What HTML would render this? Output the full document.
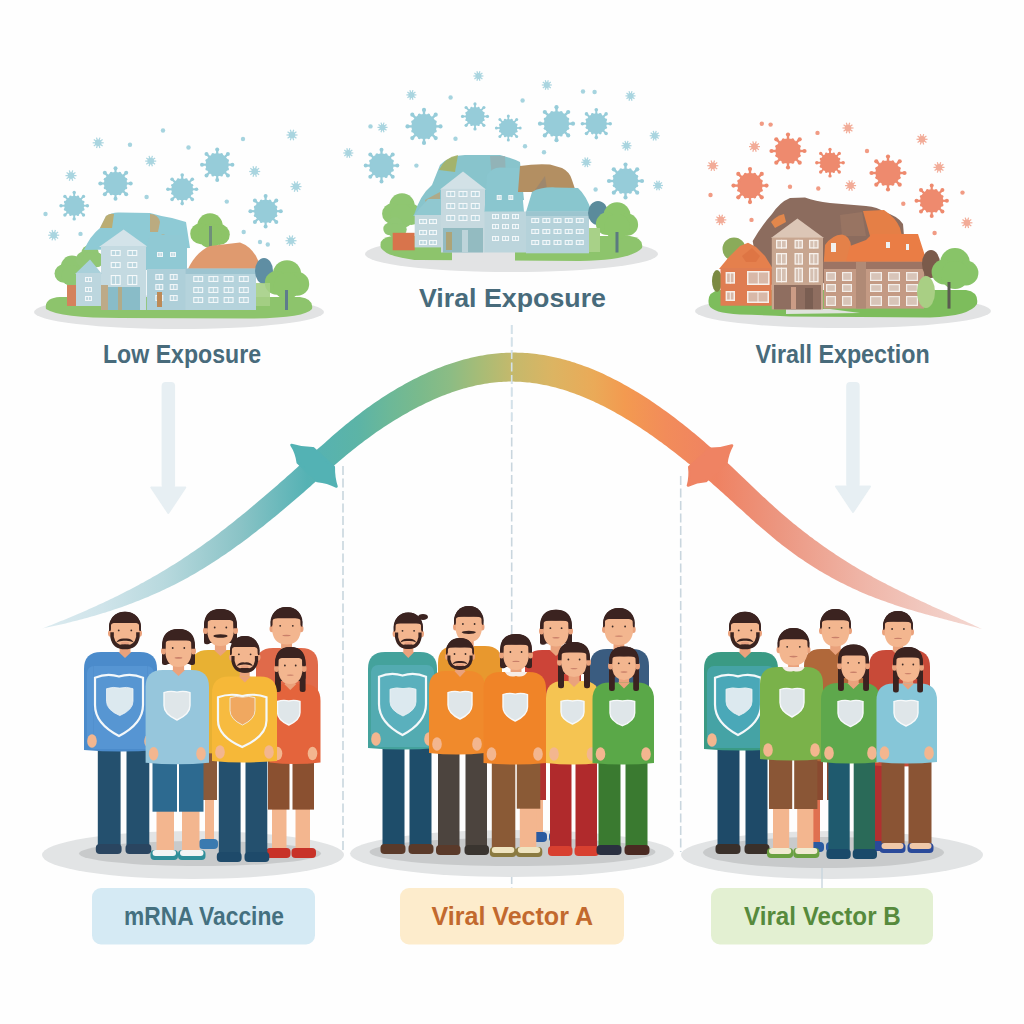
<!DOCTYPE html>
<html><head><meta charset="utf-8"><style>
html,body{margin:0;padding:0;background:#fefefe;width:1024px;height:1024px;overflow:hidden}
svg{display:block}
</style></head><body>
<svg width="1024" height="1024" viewBox="0 0 1024 1024">
<rect width="1024" height="1024" fill="#fefefe"/>
<g fill="#96ccd9" stroke="#96ccd9"><circle cx="115.5" cy="183.5" r="11.5" stroke="none"/><line x1="125.8" y1="183.5" x2="130.2" y2="183.5" stroke-width="2.2"/><circle cx="130.7" cy="183.5" r="2" stroke="none"/><line x1="122.8" y1="190.8" x2="125.9" y2="193.9" stroke-width="2.2"/><circle cx="126.2" cy="194.2" r="2" stroke="none"/><line x1="115.5" y1="193.8" x2="115.5" y2="198.2" stroke-width="2.2"/><circle cx="115.5" cy="198.7" r="2" stroke="none"/><line x1="108.2" y1="190.8" x2="105.1" y2="193.9" stroke-width="2.2"/><circle cx="104.8" cy="194.2" r="2" stroke="none"/><line x1="105.2" y1="183.5" x2="100.8" y2="183.5" stroke-width="2.2"/><circle cx="100.3" cy="183.5" r="2" stroke="none"/><line x1="108.2" y1="176.2" x2="105.1" y2="173.1" stroke-width="2.2"/><circle cx="104.8" cy="172.8" r="2" stroke="none"/><line x1="115.5" y1="173.2" x2="115.5" y2="168.8" stroke-width="2.2"/><circle cx="115.5" cy="168.3" r="2" stroke="none"/><line x1="122.8" y1="176.2" x2="125.9" y2="173.1" stroke-width="2.2"/><circle cx="126.2" cy="172.8" r="2" stroke="none"/><circle cx="125.8" cy="187.8" r="1.5" stroke="none"/><circle cx="119.8" cy="193.8" r="1.5" stroke="none"/><circle cx="111.2" cy="193.8" r="1.5" stroke="none"/><circle cx="105.2" cy="187.8" r="1.5" stroke="none"/><circle cx="105.2" cy="179.2" r="1.5" stroke="none"/><circle cx="111.2" cy="173.2" r="1.5" stroke="none"/><circle cx="119.8" cy="173.2" r="1.5" stroke="none"/><circle cx="125.8" cy="179.2" r="1.5" stroke="none"/></g><g fill="#96ccd9" stroke="#96ccd9"><circle cx="182.2" cy="189.3" r="10.8" stroke="none"/><line x1="191.9" y1="189.3" x2="196" y2="189.3" stroke-width="2.1"/><circle cx="196.5" cy="189.3" r="1.8" stroke="none"/><line x1="189.1" y1="196.2" x2="192" y2="199.1" stroke-width="2.1"/><circle cx="192.3" cy="199.4" r="1.8" stroke="none"/><line x1="182.2" y1="199" x2="182.2" y2="203.1" stroke-width="2.1"/><circle cx="182.2" cy="203.6" r="1.8" stroke="none"/><line x1="175.3" y1="196.2" x2="172.4" y2="199.1" stroke-width="2.1"/><circle cx="172.1" cy="199.4" r="1.8" stroke="none"/><line x1="172.5" y1="189.3" x2="168.4" y2="189.3" stroke-width="2.1"/><circle cx="167.9" cy="189.3" r="1.8" stroke="none"/><line x1="175.3" y1="182.4" x2="172.4" y2="179.5" stroke-width="2.1"/><circle cx="172.1" cy="179.2" r="1.8" stroke="none"/><line x1="182.2" y1="179.6" x2="182.2" y2="175.5" stroke-width="2.1"/><circle cx="182.2" cy="175" r="1.8" stroke="none"/><line x1="189.1" y1="182.4" x2="192" y2="179.5" stroke-width="2.1"/><circle cx="192.3" cy="179.2" r="1.8" stroke="none"/><circle cx="191.9" cy="193.3" r="1.4" stroke="none"/><circle cx="186.2" cy="199" r="1.4" stroke="none"/><circle cx="178.2" cy="199" r="1.4" stroke="none"/><circle cx="172.5" cy="193.3" r="1.4" stroke="none"/><circle cx="172.5" cy="185.3" r="1.4" stroke="none"/><circle cx="178.2" cy="179.6" r="1.4" stroke="none"/><circle cx="186.2" cy="179.6" r="1.4" stroke="none"/><circle cx="191.9" cy="185.3" r="1.4" stroke="none"/></g><g fill="#96ccd9" stroke="#96ccd9"><circle cx="217.2" cy="164.7" r="11.5" stroke="none"/><line x1="227.5" y1="164.7" x2="231.9" y2="164.7" stroke-width="2.2"/><circle cx="232.4" cy="164.7" r="2" stroke="none"/><line x1="224.5" y1="172" x2="227.6" y2="175.1" stroke-width="2.2"/><circle cx="227.9" cy="175.4" r="2" stroke="none"/><line x1="217.2" y1="175" x2="217.2" y2="179.4" stroke-width="2.2"/><circle cx="217.2" cy="179.9" r="2" stroke="none"/><line x1="209.9" y1="172" x2="206.8" y2="175.1" stroke-width="2.2"/><circle cx="206.5" cy="175.4" r="2" stroke="none"/><line x1="206.8" y1="164.7" x2="202.5" y2="164.7" stroke-width="2.2"/><circle cx="202" cy="164.7" r="2" stroke="none"/><line x1="209.9" y1="157.4" x2="206.8" y2="154.3" stroke-width="2.2"/><circle cx="206.5" cy="154" r="2" stroke="none"/><line x1="217.2" y1="154.3" x2="217.2" y2="150" stroke-width="2.2"/><circle cx="217.2" cy="149.5" r="2" stroke="none"/><line x1="224.5" y1="157.4" x2="227.6" y2="154.3" stroke-width="2.2"/><circle cx="227.9" cy="154" r="2" stroke="none"/><circle cx="227.5" cy="169" r="1.5" stroke="none"/><circle cx="221.5" cy="175" r="1.5" stroke="none"/><circle cx="212.9" cy="175" r="1.5" stroke="none"/><circle cx="206.9" cy="169" r="1.5" stroke="none"/><circle cx="206.9" cy="160.4" r="1.5" stroke="none"/><circle cx="212.9" cy="154.4" r="1.5" stroke="none"/><circle cx="221.5" cy="154.4" r="1.5" stroke="none"/><circle cx="227.5" cy="160.4" r="1.5" stroke="none"/></g><g fill="#96ccd9" stroke="#96ccd9"><circle cx="74.2" cy="205.7" r="10" stroke="none"/><line x1="83.2" y1="205.7" x2="87" y2="205.7" stroke-width="1.9"/><circle cx="87.4" cy="205.7" r="1.7" stroke="none"/><line x1="80.6" y1="212.1" x2="83.3" y2="214.8" stroke-width="1.9"/><circle cx="83.5" cy="215" r="1.7" stroke="none"/><line x1="74.2" y1="214.7" x2="74.2" y2="218.5" stroke-width="1.9"/><circle cx="74.2" cy="218.9" r="1.7" stroke="none"/><line x1="67.8" y1="212.1" x2="65.1" y2="214.8" stroke-width="1.9"/><circle cx="64.9" cy="215" r="1.7" stroke="none"/><line x1="65.2" y1="205.7" x2="61.4" y2="205.7" stroke-width="1.9"/><circle cx="61" cy="205.7" r="1.7" stroke="none"/><line x1="67.8" y1="199.3" x2="65.1" y2="196.6" stroke-width="1.9"/><circle cx="64.9" cy="196.4" r="1.7" stroke="none"/><line x1="74.2" y1="196.7" x2="74.2" y2="192.9" stroke-width="1.9"/><circle cx="74.2" cy="192.5" r="1.7" stroke="none"/><line x1="80.6" y1="199.3" x2="83.3" y2="196.6" stroke-width="1.9"/><circle cx="83.5" cy="196.4" r="1.7" stroke="none"/><circle cx="83.2" cy="209.4" r="1.3" stroke="none"/><circle cx="77.9" cy="214.7" r="1.3" stroke="none"/><circle cx="70.5" cy="214.7" r="1.3" stroke="none"/><circle cx="65.2" cy="209.4" r="1.3" stroke="none"/><circle cx="65.2" cy="202" r="1.3" stroke="none"/><circle cx="70.5" cy="196.7" r="1.3" stroke="none"/><circle cx="77.9" cy="196.7" r="1.3" stroke="none"/><circle cx="83.2" cy="202" r="1.3" stroke="none"/></g><g fill="#96ccd9" stroke="#96ccd9"><circle cx="265.6" cy="211.2" r="11.5" stroke="none"/><line x1="276" y1="211.2" x2="280.3" y2="211.2" stroke-width="2.2"/><circle cx="280.8" cy="211.2" r="2" stroke="none"/><line x1="272.9" y1="218.5" x2="276" y2="221.6" stroke-width="2.2"/><circle cx="276.3" cy="221.9" r="2" stroke="none"/><line x1="265.6" y1="221.5" x2="265.6" y2="225.9" stroke-width="2.2"/><circle cx="265.6" cy="226.4" r="2" stroke="none"/><line x1="258.3" y1="218.5" x2="255.2" y2="221.6" stroke-width="2.2"/><circle cx="254.9" cy="221.9" r="2" stroke="none"/><line x1="255.3" y1="211.2" x2="250.9" y2="211.2" stroke-width="2.2"/><circle cx="250.4" cy="211.2" r="2" stroke="none"/><line x1="258.3" y1="203.9" x2="255.2" y2="200.8" stroke-width="2.2"/><circle cx="254.9" cy="200.5" r="2" stroke="none"/><line x1="265.6" y1="200.8" x2="265.6" y2="196.5" stroke-width="2.2"/><circle cx="265.6" cy="196" r="2" stroke="none"/><line x1="272.9" y1="203.9" x2="276" y2="200.8" stroke-width="2.2"/><circle cx="276.3" cy="200.5" r="2" stroke="none"/><circle cx="275.9" cy="215.5" r="1.5" stroke="none"/><circle cx="269.9" cy="221.5" r="1.5" stroke="none"/><circle cx="261.3" cy="221.5" r="1.5" stroke="none"/><circle cx="255.3" cy="215.5" r="1.5" stroke="none"/><circle cx="255.3" cy="206.9" r="1.5" stroke="none"/><circle cx="261.3" cy="200.9" r="1.5" stroke="none"/><circle cx="269.9" cy="200.9" r="1.5" stroke="none"/><circle cx="275.9" cy="206.9" r="1.5" stroke="none"/></g><g stroke="#96ccd9" opacity="0.8" stroke-width="1.2"><circle cx="98.2" cy="142.8" r="3.3" fill="#96ccd9" stroke="none"/><line x1="98.2" y1="142.8" x2="103.7" y2="142.8"/><line x1="98.2" y1="142.8" x2="102.6" y2="146"/><line x1="98.2" y1="142.8" x2="99.9" y2="148"/><line x1="98.2" y1="142.8" x2="96.5" y2="148"/><line x1="98.2" y1="142.8" x2="93.8" y2="146"/><line x1="98.2" y1="142.8" x2="92.7" y2="142.8"/><line x1="98.2" y1="142.8" x2="93.8" y2="139.6"/><line x1="98.2" y1="142.8" x2="96.5" y2="137.6"/><line x1="98.2" y1="142.8" x2="99.9" y2="137.6"/><line x1="98.2" y1="142.8" x2="102.6" y2="139.6"/></g><g stroke="#96ccd9" opacity="0.8" stroke-width="1.2"><circle cx="150.7" cy="161.1" r="3.3" fill="#96ccd9" stroke="none"/><line x1="150.7" y1="161.1" x2="156.2" y2="161.1"/><line x1="150.7" y1="161.1" x2="155.1" y2="164.3"/><line x1="150.7" y1="161.1" x2="152.4" y2="166.3"/><line x1="150.7" y1="161.1" x2="149" y2="166.3"/><line x1="150.7" y1="161.1" x2="146.3" y2="164.3"/><line x1="150.7" y1="161.1" x2="145.2" y2="161.1"/><line x1="150.7" y1="161.1" x2="146.3" y2="157.9"/><line x1="150.7" y1="161.1" x2="149" y2="155.9"/><line x1="150.7" y1="161.1" x2="152.4" y2="155.9"/><line x1="150.7" y1="161.1" x2="155.1" y2="157.9"/></g><g stroke="#96ccd9" opacity="0.8" stroke-width="1.2"><circle cx="292" cy="135" r="3.3" fill="#96ccd9" stroke="none"/><line x1="292" y1="135" x2="297.5" y2="135"/><line x1="292" y1="135" x2="296.4" y2="138.2"/><line x1="292" y1="135" x2="293.7" y2="140.2"/><line x1="292" y1="135" x2="290.3" y2="140.2"/><line x1="292" y1="135" x2="287.6" y2="138.2"/><line x1="292" y1="135" x2="286.5" y2="135"/><line x1="292" y1="135" x2="287.6" y2="131.8"/><line x1="292" y1="135" x2="290.3" y2="129.8"/><line x1="292" y1="135" x2="293.7" y2="129.8"/><line x1="292" y1="135" x2="296.4" y2="131.8"/></g><g stroke="#96ccd9" opacity="0.8" stroke-width="1.2"><circle cx="53.7" cy="235.2" r="3.3" fill="#96ccd9" stroke="none"/><line x1="53.7" y1="235.2" x2="59.2" y2="235.2"/><line x1="53.7" y1="235.2" x2="58.1" y2="238.4"/><line x1="53.7" y1="235.2" x2="55.4" y2="240.4"/><line x1="53.7" y1="235.2" x2="52" y2="240.4"/><line x1="53.7" y1="235.2" x2="49.3" y2="238.4"/><line x1="53.7" y1="235.2" x2="48.2" y2="235.2"/><line x1="53.7" y1="235.2" x2="49.3" y2="232"/><line x1="53.7" y1="235.2" x2="52" y2="230"/><line x1="53.7" y1="235.2" x2="55.4" y2="230"/><line x1="53.7" y1="235.2" x2="58.1" y2="232"/></g><g stroke="#96ccd9" opacity="0.8" stroke-width="1.2"><circle cx="291" cy="240.7" r="3.3" fill="#96ccd9" stroke="none"/><line x1="291" y1="240.7" x2="296.5" y2="240.7"/><line x1="291" y1="240.7" x2="295.4" y2="243.9"/><line x1="291" y1="240.7" x2="292.7" y2="245.9"/><line x1="291" y1="240.7" x2="289.3" y2="245.9"/><line x1="291" y1="240.7" x2="286.6" y2="243.9"/><line x1="291" y1="240.7" x2="285.5" y2="240.7"/><line x1="291" y1="240.7" x2="286.6" y2="237.5"/><line x1="291" y1="240.7" x2="289.3" y2="235.5"/><line x1="291" y1="240.7" x2="292.7" y2="235.5"/><line x1="291" y1="240.7" x2="295.4" y2="237.5"/></g><g stroke="#96ccd9" opacity="0.8" stroke-width="1.2"><circle cx="254.7" cy="171.5" r="3.3" fill="#96ccd9" stroke="none"/><line x1="254.7" y1="171.5" x2="260.2" y2="171.5"/><line x1="254.7" y1="171.5" x2="259.1" y2="174.7"/><line x1="254.7" y1="171.5" x2="256.4" y2="176.7"/><line x1="254.7" y1="171.5" x2="253" y2="176.7"/><line x1="254.7" y1="171.5" x2="250.3" y2="174.7"/><line x1="254.7" y1="171.5" x2="249.2" y2="171.5"/><line x1="254.7" y1="171.5" x2="250.3" y2="168.3"/><line x1="254.7" y1="171.5" x2="253" y2="166.3"/><line x1="254.7" y1="171.5" x2="256.4" y2="166.3"/><line x1="254.7" y1="171.5" x2="259.1" y2="168.3"/></g><g stroke="#96ccd9" opacity="0.8" stroke-width="1.2"><circle cx="296" cy="186.6" r="3.3" fill="#96ccd9" stroke="none"/><line x1="296" y1="186.6" x2="301.5" y2="186.6"/><line x1="296" y1="186.6" x2="300.4" y2="189.8"/><line x1="296" y1="186.6" x2="297.7" y2="191.8"/><line x1="296" y1="186.6" x2="294.3" y2="191.8"/><line x1="296" y1="186.6" x2="291.6" y2="189.8"/><line x1="296" y1="186.6" x2="290.5" y2="186.6"/><line x1="296" y1="186.6" x2="291.6" y2="183.4"/><line x1="296" y1="186.6" x2="294.3" y2="181.4"/><line x1="296" y1="186.6" x2="297.7" y2="181.4"/><line x1="296" y1="186.6" x2="300.4" y2="183.4"/></g><g stroke="#96ccd9" opacity="0.8" stroke-width="1.2"><circle cx="71" cy="175.6" r="3.3" fill="#96ccd9" stroke="none"/><line x1="71" y1="175.6" x2="76.5" y2="175.6"/><line x1="71" y1="175.6" x2="75.4" y2="178.8"/><line x1="71" y1="175.6" x2="72.7" y2="180.8"/><line x1="71" y1="175.6" x2="69.3" y2="180.8"/><line x1="71" y1="175.6" x2="66.6" y2="178.8"/><line x1="71" y1="175.6" x2="65.5" y2="175.6"/><line x1="71" y1="175.6" x2="66.6" y2="172.4"/><line x1="71" y1="175.6" x2="69.3" y2="170.4"/><line x1="71" y1="175.6" x2="72.7" y2="170.4"/><line x1="71" y1="175.6" x2="75.4" y2="172.4"/></g><circle cx="146.6" cy="197" r="2.2" fill="#96ccd9" opacity="0.85"/><circle cx="226.8" cy="201.6" r="2.2" fill="#96ccd9" opacity="0.85"/><circle cx="130" cy="144.7" r="2.2" fill="#96ccd9" opacity="0.85"/><circle cx="163" cy="130.5" r="2.2" fill="#96ccd9" opacity="0.85"/><circle cx="188.5" cy="147.5" r="2.2" fill="#96ccd9" opacity="0.85"/><circle cx="243" cy="139" r="2.2" fill="#96ccd9" opacity="0.85"/><circle cx="80.5" cy="233.9" r="2.2" fill="#96ccd9" opacity="0.85"/><circle cx="45.5" cy="214" r="2.2" fill="#96ccd9" opacity="0.85"/><circle cx="243.7" cy="232" r="2.2" fill="#96ccd9" opacity="0.85"/><circle cx="260" cy="242" r="2.2" fill="#96ccd9" opacity="0.85"/><circle cx="267.8" cy="244.5" r="2.2" fill="#96ccd9" opacity="0.85"/><g fill="#96ccd9" stroke="#96ccd9"><circle cx="424" cy="126.4" r="12.5" stroke="none"/><line x1="435.2" y1="126.4" x2="440" y2="126.4" stroke-width="2.4"/><circle cx="440.5" cy="126.4" r="2.1" stroke="none"/><line x1="432" y1="134.4" x2="435.3" y2="137.7" stroke-width="2.4"/><circle cx="435.7" cy="138.1" r="2.1" stroke="none"/><line x1="424" y1="137.7" x2="424" y2="142.4" stroke-width="2.4"/><circle cx="424" cy="142.9" r="2.1" stroke="none"/><line x1="416" y1="134.4" x2="412.7" y2="137.7" stroke-width="2.4"/><circle cx="412.3" cy="138.1" r="2.1" stroke="none"/><line x1="412.8" y1="126.4" x2="408" y2="126.4" stroke-width="2.4"/><circle cx="407.5" cy="126.4" r="2.1" stroke="none"/><line x1="416" y1="118.4" x2="412.7" y2="115.1" stroke-width="2.4"/><circle cx="412.3" cy="114.7" r="2.1" stroke="none"/><line x1="424" y1="115.2" x2="424" y2="110.4" stroke-width="2.4"/><circle cx="424" cy="109.9" r="2.1" stroke="none"/><line x1="432" y1="118.4" x2="435.3" y2="115.1" stroke-width="2.4"/><circle cx="435.7" cy="114.7" r="2.1" stroke="none"/><circle cx="435.2" cy="131" r="1.6" stroke="none"/><circle cx="428.6" cy="137.6" r="1.6" stroke="none"/><circle cx="419.4" cy="137.6" r="1.6" stroke="none"/><circle cx="412.8" cy="131" r="1.6" stroke="none"/><circle cx="412.8" cy="121.8" r="1.6" stroke="none"/><circle cx="419.4" cy="115.2" r="1.6" stroke="none"/><circle cx="428.6" cy="115.2" r="1.6" stroke="none"/><circle cx="435.2" cy="121.8" r="1.6" stroke="none"/></g><g fill="#96ccd9" stroke="#96ccd9"><circle cx="475" cy="116.4" r="9.5" stroke="none"/><line x1="483.6" y1="116.4" x2="487.2" y2="116.4" stroke-width="1.8"/><circle cx="487.5" cy="116.4" r="1.6" stroke="none"/><line x1="481" y1="122.4" x2="483.6" y2="125" stroke-width="1.8"/><circle cx="483.9" cy="125.3" r="1.6" stroke="none"/><line x1="475" y1="125" x2="475" y2="128.6" stroke-width="1.8"/><circle cx="475" cy="128.9" r="1.6" stroke="none"/><line x1="469" y1="122.4" x2="466.4" y2="125" stroke-width="1.8"/><circle cx="466.1" cy="125.3" r="1.6" stroke="none"/><line x1="466.4" y1="116.4" x2="462.8" y2="116.4" stroke-width="1.8"/><circle cx="462.5" cy="116.4" r="1.6" stroke="none"/><line x1="469" y1="110.4" x2="466.4" y2="107.8" stroke-width="1.8"/><circle cx="466.1" cy="107.5" r="1.6" stroke="none"/><line x1="475" y1="107.9" x2="475" y2="104.2" stroke-width="1.8"/><circle cx="475" cy="103.9" r="1.6" stroke="none"/><line x1="481" y1="110.4" x2="483.6" y2="107.8" stroke-width="1.8"/><circle cx="483.9" cy="107.5" r="1.6" stroke="none"/><circle cx="483.5" cy="119.9" r="1.2" stroke="none"/><circle cx="478.5" cy="124.9" r="1.2" stroke="none"/><circle cx="471.5" cy="124.9" r="1.2" stroke="none"/><circle cx="466.5" cy="119.9" r="1.2" stroke="none"/><circle cx="466.5" cy="112.9" r="1.2" stroke="none"/><circle cx="471.5" cy="107.9" r="1.2" stroke="none"/><circle cx="478.5" cy="107.9" r="1.2" stroke="none"/><circle cx="483.5" cy="112.9" r="1.2" stroke="none"/></g><g fill="#96ccd9" stroke="#96ccd9"><circle cx="508.3" cy="128" r="9" stroke="none"/><line x1="516.4" y1="128" x2="519.8" y2="128" stroke-width="1.7"/><circle cx="520.2" cy="128" r="1.5" stroke="none"/><line x1="514" y1="133.7" x2="516.4" y2="136.1" stroke-width="1.7"/><circle cx="516.7" cy="136.4" r="1.5" stroke="none"/><line x1="508.3" y1="136.1" x2="508.3" y2="139.5" stroke-width="1.7"/><circle cx="508.3" cy="139.9" r="1.5" stroke="none"/><line x1="502.6" y1="133.7" x2="500.2" y2="136.1" stroke-width="1.7"/><circle cx="499.9" cy="136.4" r="1.5" stroke="none"/><line x1="500.2" y1="128" x2="496.8" y2="128" stroke-width="1.7"/><circle cx="496.4" cy="128" r="1.5" stroke="none"/><line x1="502.6" y1="122.3" x2="500.2" y2="119.9" stroke-width="1.7"/><circle cx="499.9" cy="119.6" r="1.5" stroke="none"/><line x1="508.3" y1="119.9" x2="508.3" y2="116.5" stroke-width="1.7"/><circle cx="508.3" cy="116.1" r="1.5" stroke="none"/><line x1="514" y1="122.3" x2="516.4" y2="119.9" stroke-width="1.7"/><circle cx="516.7" cy="119.6" r="1.5" stroke="none"/><circle cx="516.4" cy="131.3" r="1.2" stroke="none"/><circle cx="511.6" cy="136.1" r="1.2" stroke="none"/><circle cx="505" cy="136.1" r="1.2" stroke="none"/><circle cx="500.2" cy="131.3" r="1.2" stroke="none"/><circle cx="500.2" cy="124.7" r="1.2" stroke="none"/><circle cx="505" cy="119.9" r="1.2" stroke="none"/><circle cx="511.6" cy="119.9" r="1.2" stroke="none"/><circle cx="516.4" cy="124.7" r="1.2" stroke="none"/></g><g fill="#96ccd9" stroke="#96ccd9"><circle cx="556.5" cy="123.7" r="12.5" stroke="none"/><line x1="567.8" y1="123.7" x2="572.5" y2="123.7" stroke-width="2.4"/><circle cx="573" cy="123.7" r="2.1" stroke="none"/><line x1="564.5" y1="131.7" x2="567.8" y2="135" stroke-width="2.4"/><circle cx="568.2" cy="135.4" r="2.1" stroke="none"/><line x1="556.5" y1="134.9" x2="556.5" y2="139.7" stroke-width="2.4"/><circle cx="556.5" cy="140.2" r="2.1" stroke="none"/><line x1="548.5" y1="131.7" x2="545.2" y2="135" stroke-width="2.4"/><circle cx="544.8" cy="135.4" r="2.1" stroke="none"/><line x1="545.2" y1="123.7" x2="540.5" y2="123.7" stroke-width="2.4"/><circle cx="540" cy="123.7" r="2.1" stroke="none"/><line x1="548.5" y1="115.7" x2="545.2" y2="112.4" stroke-width="2.4"/><circle cx="544.8" cy="112" r="2.1" stroke="none"/><line x1="556.5" y1="112.5" x2="556.5" y2="107.7" stroke-width="2.4"/><circle cx="556.5" cy="107.2" r="2.1" stroke="none"/><line x1="564.5" y1="115.7" x2="567.8" y2="112.4" stroke-width="2.4"/><circle cx="568.2" cy="112" r="2.1" stroke="none"/><circle cx="567.7" cy="128.3" r="1.6" stroke="none"/><circle cx="561.1" cy="134.9" r="1.6" stroke="none"/><circle cx="551.9" cy="134.9" r="1.6" stroke="none"/><circle cx="545.3" cy="128.3" r="1.6" stroke="none"/><circle cx="545.3" cy="119.1" r="1.6" stroke="none"/><circle cx="551.9" cy="112.5" r="1.6" stroke="none"/><circle cx="561.1" cy="112.5" r="1.6" stroke="none"/><circle cx="567.7" cy="119.1" r="1.6" stroke="none"/></g><g fill="#96ccd9" stroke="#96ccd9"><circle cx="596.3" cy="123.7" r="10.5" stroke="none"/><line x1="605.8" y1="123.7" x2="609.7" y2="123.7" stroke-width="2"/><circle cx="610.2" cy="123.7" r="1.8" stroke="none"/><line x1="603" y1="130.4" x2="605.8" y2="133.2" stroke-width="2"/><circle cx="606.1" cy="133.5" r="1.8" stroke="none"/><line x1="596.3" y1="133.2" x2="596.3" y2="137.1" stroke-width="2"/><circle cx="596.3" cy="137.6" r="1.8" stroke="none"/><line x1="589.6" y1="130.4" x2="586.8" y2="133.2" stroke-width="2"/><circle cx="586.5" cy="133.5" r="1.8" stroke="none"/><line x1="586.8" y1="123.7" x2="582.9" y2="123.7" stroke-width="2"/><circle cx="582.4" cy="123.7" r="1.8" stroke="none"/><line x1="589.6" y1="117" x2="586.8" y2="114.2" stroke-width="2"/><circle cx="586.5" cy="113.9" r="1.8" stroke="none"/><line x1="596.3" y1="114.2" x2="596.3" y2="110.3" stroke-width="2"/><circle cx="596.3" cy="109.8" r="1.8" stroke="none"/><line x1="603" y1="117" x2="605.8" y2="114.2" stroke-width="2"/><circle cx="606.1" cy="113.9" r="1.8" stroke="none"/><circle cx="605.7" cy="127.6" r="1.4" stroke="none"/><circle cx="600.2" cy="133.1" r="1.4" stroke="none"/><circle cx="592.4" cy="133.1" r="1.4" stroke="none"/><circle cx="586.9" cy="127.6" r="1.4" stroke="none"/><circle cx="586.9" cy="119.8" r="1.4" stroke="none"/><circle cx="592.4" cy="114.3" r="1.4" stroke="none"/><circle cx="600.2" cy="114.3" r="1.4" stroke="none"/><circle cx="605.7" cy="119.8" r="1.4" stroke="none"/></g><g fill="#96ccd9" stroke="#96ccd9"><circle cx="381.5" cy="165.6" r="12" stroke="none"/><line x1="392.3" y1="165.6" x2="396.9" y2="165.6" stroke-width="2.3"/><circle cx="397.3" cy="165.6" r="2" stroke="none"/><line x1="389.1" y1="173.2" x2="392.4" y2="176.5" stroke-width="2.3"/><circle cx="392.7" cy="176.8" r="2" stroke="none"/><line x1="381.5" y1="176.4" x2="381.5" y2="181" stroke-width="2.3"/><circle cx="381.5" cy="181.4" r="2" stroke="none"/><line x1="373.9" y1="173.2" x2="370.6" y2="176.5" stroke-width="2.3"/><circle cx="370.3" cy="176.8" r="2" stroke="none"/><line x1="370.7" y1="165.6" x2="366.1" y2="165.6" stroke-width="2.3"/><circle cx="365.7" cy="165.6" r="2" stroke="none"/><line x1="373.9" y1="158" x2="370.6" y2="154.7" stroke-width="2.3"/><circle cx="370.3" cy="154.4" r="2" stroke="none"/><line x1="381.5" y1="154.8" x2="381.5" y2="150.2" stroke-width="2.3"/><circle cx="381.5" cy="149.8" r="2" stroke="none"/><line x1="389.1" y1="158" x2="392.4" y2="154.7" stroke-width="2.3"/><circle cx="392.7" cy="154.4" r="2" stroke="none"/><circle cx="392.3" cy="170.1" r="1.6" stroke="none"/><circle cx="386" cy="176.4" r="1.6" stroke="none"/><circle cx="377" cy="176.4" r="1.6" stroke="none"/><circle cx="370.7" cy="170.1" r="1.6" stroke="none"/><circle cx="370.7" cy="161.1" r="1.6" stroke="none"/><circle cx="377" cy="154.8" r="1.6" stroke="none"/><circle cx="386" cy="154.8" r="1.6" stroke="none"/><circle cx="392.3" cy="161.1" r="1.6" stroke="none"/></g><g fill="#96ccd9" stroke="#96ccd9"><circle cx="625.5" cy="181" r="12.5" stroke="none"/><line x1="636.8" y1="181" x2="641.5" y2="181" stroke-width="2.4"/><circle cx="642" cy="181" r="2.1" stroke="none"/><line x1="633.5" y1="189" x2="636.8" y2="192.3" stroke-width="2.4"/><circle cx="637.2" cy="192.7" r="2.1" stroke="none"/><line x1="625.5" y1="192.2" x2="625.5" y2="197" stroke-width="2.4"/><circle cx="625.5" cy="197.5" r="2.1" stroke="none"/><line x1="617.5" y1="189" x2="614.2" y2="192.3" stroke-width="2.4"/><circle cx="613.8" cy="192.7" r="2.1" stroke="none"/><line x1="614.2" y1="181" x2="609.5" y2="181" stroke-width="2.4"/><circle cx="609" cy="181" r="2.1" stroke="none"/><line x1="617.5" y1="173" x2="614.2" y2="169.7" stroke-width="2.4"/><circle cx="613.8" cy="169.3" r="2.1" stroke="none"/><line x1="625.5" y1="169.8" x2="625.5" y2="165" stroke-width="2.4"/><circle cx="625.5" cy="164.5" r="2.1" stroke="none"/><line x1="633.5" y1="173" x2="636.8" y2="169.7" stroke-width="2.4"/><circle cx="637.2" cy="169.3" r="2.1" stroke="none"/><circle cx="636.7" cy="185.6" r="1.6" stroke="none"/><circle cx="630.1" cy="192.2" r="1.6" stroke="none"/><circle cx="620.9" cy="192.2" r="1.6" stroke="none"/><circle cx="614.3" cy="185.6" r="1.6" stroke="none"/><circle cx="614.3" cy="176.4" r="1.6" stroke="none"/><circle cx="620.9" cy="169.8" r="1.6" stroke="none"/><circle cx="630.1" cy="169.8" r="1.6" stroke="none"/><circle cx="636.7" cy="176.4" r="1.6" stroke="none"/></g><g stroke="#96ccd9" opacity="0.8" stroke-width="1.2"><circle cx="478.4" cy="76" r="3" fill="#96ccd9" stroke="none"/><line x1="478.4" y1="76" x2="483.4" y2="76"/><line x1="478.4" y1="76" x2="482.4" y2="78.9"/><line x1="478.4" y1="76" x2="479.9" y2="80.8"/><line x1="478.4" y1="76" x2="476.9" y2="80.8"/><line x1="478.4" y1="76" x2="474.4" y2="78.9"/><line x1="478.4" y1="76" x2="473.4" y2="76"/><line x1="478.4" y1="76" x2="474.4" y2="73.1"/><line x1="478.4" y1="76" x2="476.9" y2="71.2"/><line x1="478.4" y1="76" x2="479.9" y2="71.2"/><line x1="478.4" y1="76" x2="482.4" y2="73.1"/></g><g stroke="#96ccd9" opacity="0.8" stroke-width="1.2"><circle cx="411.4" cy="94.9" r="3" fill="#96ccd9" stroke="none"/><line x1="411.4" y1="94.9" x2="416.4" y2="94.9"/><line x1="411.4" y1="94.9" x2="415.4" y2="97.8"/><line x1="411.4" y1="94.9" x2="412.9" y2="99.7"/><line x1="411.4" y1="94.9" x2="409.9" y2="99.7"/><line x1="411.4" y1="94.9" x2="407.4" y2="97.8"/><line x1="411.4" y1="94.9" x2="406.4" y2="94.9"/><line x1="411.4" y1="94.9" x2="407.4" y2="92"/><line x1="411.4" y1="94.9" x2="409.9" y2="90.1"/><line x1="411.4" y1="94.9" x2="412.9" y2="90.1"/><line x1="411.4" y1="94.9" x2="415.4" y2="92"/></g><g stroke="#96ccd9" opacity="0.8" stroke-width="1.2"><circle cx="546.8" cy="85" r="3" fill="#96ccd9" stroke="none"/><line x1="546.8" y1="85" x2="551.8" y2="85"/><line x1="546.8" y1="85" x2="550.8" y2="87.9"/><line x1="546.8" y1="85" x2="548.3" y2="89.8"/><line x1="546.8" y1="85" x2="545.3" y2="89.8"/><line x1="546.8" y1="85" x2="542.8" y2="87.9"/><line x1="546.8" y1="85" x2="541.8" y2="85"/><line x1="546.8" y1="85" x2="542.8" y2="82.1"/><line x1="546.8" y1="85" x2="545.3" y2="80.2"/><line x1="546.8" y1="85" x2="548.3" y2="80.2"/><line x1="546.8" y1="85" x2="550.8" y2="82.1"/></g><g stroke="#96ccd9" opacity="0.8" stroke-width="1.2"><circle cx="630.5" cy="95.9" r="3" fill="#96ccd9" stroke="none"/><line x1="630.5" y1="95.9" x2="635.5" y2="95.9"/><line x1="630.5" y1="95.9" x2="634.5" y2="98.8"/><line x1="630.5" y1="95.9" x2="632" y2="100.7"/><line x1="630.5" y1="95.9" x2="629" y2="100.7"/><line x1="630.5" y1="95.9" x2="626.5" y2="98.8"/><line x1="630.5" y1="95.9" x2="625.5" y2="95.9"/><line x1="630.5" y1="95.9" x2="626.5" y2="93"/><line x1="630.5" y1="95.9" x2="629" y2="91.1"/><line x1="630.5" y1="95.9" x2="632" y2="91.1"/><line x1="630.5" y1="95.9" x2="634.5" y2="93"/></g><g stroke="#96ccd9" opacity="0.8" stroke-width="1.2"><circle cx="382.5" cy="127.4" r="3" fill="#96ccd9" stroke="none"/><line x1="382.5" y1="127.4" x2="387.5" y2="127.4"/><line x1="382.5" y1="127.4" x2="386.5" y2="130.3"/><line x1="382.5" y1="127.4" x2="384" y2="132.2"/><line x1="382.5" y1="127.4" x2="381" y2="132.2"/><line x1="382.5" y1="127.4" x2="378.5" y2="130.3"/><line x1="382.5" y1="127.4" x2="377.5" y2="127.4"/><line x1="382.5" y1="127.4" x2="378.5" y2="124.5"/><line x1="382.5" y1="127.4" x2="381" y2="122.6"/><line x1="382.5" y1="127.4" x2="384" y2="122.6"/><line x1="382.5" y1="127.4" x2="386.5" y2="124.5"/></g><g stroke="#96ccd9" opacity="0.8" stroke-width="1.2"><circle cx="348.3" cy="153" r="3" fill="#96ccd9" stroke="none"/><line x1="348.3" y1="153" x2="353.3" y2="153"/><line x1="348.3" y1="153" x2="352.3" y2="155.9"/><line x1="348.3" y1="153" x2="349.8" y2="157.8"/><line x1="348.3" y1="153" x2="346.8" y2="157.8"/><line x1="348.3" y1="153" x2="344.3" y2="155.9"/><line x1="348.3" y1="153" x2="343.3" y2="153"/><line x1="348.3" y1="153" x2="344.3" y2="150.1"/><line x1="348.3" y1="153" x2="346.8" y2="148.2"/><line x1="348.3" y1="153" x2="349.8" y2="148.2"/><line x1="348.3" y1="153" x2="352.3" y2="150.1"/></g><g stroke="#96ccd9" opacity="0.8" stroke-width="1.2"><circle cx="586.3" cy="162.3" r="3" fill="#96ccd9" stroke="none"/><line x1="586.3" y1="162.3" x2="591.3" y2="162.3"/><line x1="586.3" y1="162.3" x2="590.3" y2="165.2"/><line x1="586.3" y1="162.3" x2="587.8" y2="167.1"/><line x1="586.3" y1="162.3" x2="584.8" y2="167.1"/><line x1="586.3" y1="162.3" x2="582.3" y2="165.2"/><line x1="586.3" y1="162.3" x2="581.3" y2="162.3"/><line x1="586.3" y1="162.3" x2="582.3" y2="159.4"/><line x1="586.3" y1="162.3" x2="584.8" y2="157.5"/><line x1="586.3" y1="162.3" x2="587.8" y2="157.5"/><line x1="586.3" y1="162.3" x2="590.3" y2="159.4"/></g><g stroke="#96ccd9" opacity="0.8" stroke-width="1.2"><circle cx="658" cy="185.5" r="3" fill="#96ccd9" stroke="none"/><line x1="658" y1="185.5" x2="663" y2="185.5"/><line x1="658" y1="185.5" x2="662" y2="188.4"/><line x1="658" y1="185.5" x2="659.5" y2="190.3"/><line x1="658" y1="185.5" x2="656.5" y2="190.3"/><line x1="658" y1="185.5" x2="654" y2="188.4"/><line x1="658" y1="185.5" x2="653" y2="185.5"/><line x1="658" y1="185.5" x2="654" y2="182.6"/><line x1="658" y1="185.5" x2="656.5" y2="180.7"/><line x1="658" y1="185.5" x2="659.5" y2="180.7"/><line x1="658" y1="185.5" x2="662" y2="182.6"/></g><g stroke="#96ccd9" opacity="0.8" stroke-width="1.2"><circle cx="626.5" cy="145.7" r="3" fill="#96ccd9" stroke="none"/><line x1="626.5" y1="145.7" x2="631.5" y2="145.7"/><line x1="626.5" y1="145.7" x2="630.5" y2="148.6"/><line x1="626.5" y1="145.7" x2="628" y2="150.5"/><line x1="626.5" y1="145.7" x2="625" y2="150.5"/><line x1="626.5" y1="145.7" x2="622.5" y2="148.6"/><line x1="626.5" y1="145.7" x2="621.5" y2="145.7"/><line x1="626.5" y1="145.7" x2="622.5" y2="142.8"/><line x1="626.5" y1="145.7" x2="625" y2="140.9"/><line x1="626.5" y1="145.7" x2="628" y2="140.9"/><line x1="626.5" y1="145.7" x2="630.5" y2="142.8"/></g><g stroke="#96ccd9" opacity="0.8" stroke-width="1.2"><circle cx="654.7" cy="135.7" r="3" fill="#96ccd9" stroke="none"/><line x1="654.7" y1="135.7" x2="659.7" y2="135.7"/><line x1="654.7" y1="135.7" x2="658.7" y2="138.6"/><line x1="654.7" y1="135.7" x2="656.2" y2="140.5"/><line x1="654.7" y1="135.7" x2="653.2" y2="140.5"/><line x1="654.7" y1="135.7" x2="650.7" y2="138.6"/><line x1="654.7" y1="135.7" x2="649.7" y2="135.7"/><line x1="654.7" y1="135.7" x2="650.7" y2="132.8"/><line x1="654.7" y1="135.7" x2="653.2" y2="130.9"/><line x1="654.7" y1="135.7" x2="656.2" y2="130.9"/><line x1="654.7" y1="135.7" x2="658.7" y2="132.8"/></g><circle cx="450.6" cy="97.5" r="2.2" fill="#96ccd9" opacity="0.85"/><circle cx="522.6" cy="100.5" r="2.2" fill="#96ccd9" opacity="0.85"/><circle cx="583" cy="91.5" r="2.2" fill="#96ccd9" opacity="0.85"/><circle cx="594.6" cy="92" r="2.2" fill="#96ccd9" opacity="0.85"/><circle cx="455.5" cy="138.7" r="2.2" fill="#96ccd9" opacity="0.85"/><circle cx="525" cy="146.3" r="2.2" fill="#96ccd9" opacity="0.85"/><circle cx="544" cy="152.3" r="2.2" fill="#96ccd9" opacity="0.85"/><circle cx="416.4" cy="165.6" r="2.2" fill="#96ccd9" opacity="0.85"/><circle cx="370.5" cy="126.4" r="2.2" fill="#96ccd9" opacity="0.85"/><circle cx="595.6" cy="189.5" r="2.2" fill="#96ccd9" opacity="0.85"/><g fill="#ee8a6e" stroke="#ee8a6e"><circle cx="788" cy="151" r="12.5" stroke="none"/><line x1="799.2" y1="151" x2="804" y2="151" stroke-width="2.4"/><circle cx="804.5" cy="151" r="2.1" stroke="none"/><line x1="796" y1="159" x2="799.3" y2="162.3" stroke-width="2.4"/><circle cx="799.7" cy="162.7" r="2.1" stroke="none"/><line x1="788" y1="162.2" x2="788" y2="167" stroke-width="2.4"/><circle cx="788" cy="167.5" r="2.1" stroke="none"/><line x1="780" y1="159" x2="776.7" y2="162.3" stroke-width="2.4"/><circle cx="776.3" cy="162.7" r="2.1" stroke="none"/><line x1="776.8" y1="151" x2="772" y2="151" stroke-width="2.4"/><circle cx="771.5" cy="151" r="2.1" stroke="none"/><line x1="780" y1="143" x2="776.7" y2="139.7" stroke-width="2.4"/><circle cx="776.3" cy="139.3" r="2.1" stroke="none"/><line x1="788" y1="139.8" x2="788" y2="135" stroke-width="2.4"/><circle cx="788" cy="134.5" r="2.1" stroke="none"/><line x1="796" y1="143" x2="799.3" y2="139.7" stroke-width="2.4"/><circle cx="799.7" cy="139.3" r="2.1" stroke="none"/><circle cx="799.2" cy="155.6" r="1.6" stroke="none"/><circle cx="792.6" cy="162.2" r="1.6" stroke="none"/><circle cx="783.4" cy="162.2" r="1.6" stroke="none"/><circle cx="776.8" cy="155.6" r="1.6" stroke="none"/><circle cx="776.8" cy="146.4" r="1.6" stroke="none"/><circle cx="783.4" cy="139.8" r="1.6" stroke="none"/><circle cx="792.6" cy="139.8" r="1.6" stroke="none"/><circle cx="799.2" cy="146.4" r="1.6" stroke="none"/></g><g fill="#ee8a6e" stroke="#ee8a6e"><circle cx="830" cy="162.7" r="10" stroke="none"/><line x1="839" y1="162.7" x2="842.8" y2="162.7" stroke-width="1.9"/><circle cx="843.2" cy="162.7" r="1.7" stroke="none"/><line x1="836.4" y1="169.1" x2="839.1" y2="171.8" stroke-width="1.9"/><circle cx="839.3" cy="172" r="1.7" stroke="none"/><line x1="830" y1="171.7" x2="830" y2="175.5" stroke-width="1.9"/><circle cx="830" cy="175.9" r="1.7" stroke="none"/><line x1="823.6" y1="169.1" x2="820.9" y2="171.8" stroke-width="1.9"/><circle cx="820.7" cy="172" r="1.7" stroke="none"/><line x1="821" y1="162.7" x2="817.2" y2="162.7" stroke-width="1.9"/><circle cx="816.8" cy="162.7" r="1.7" stroke="none"/><line x1="823.6" y1="156.3" x2="820.9" y2="153.6" stroke-width="1.9"/><circle cx="820.7" cy="153.4" r="1.7" stroke="none"/><line x1="830" y1="153.7" x2="830" y2="149.9" stroke-width="1.9"/><circle cx="830" cy="149.5" r="1.7" stroke="none"/><line x1="836.4" y1="156.3" x2="839.1" y2="153.6" stroke-width="1.9"/><circle cx="839.3" cy="153.4" r="1.7" stroke="none"/><circle cx="839" cy="166.4" r="1.3" stroke="none"/><circle cx="833.7" cy="171.7" r="1.3" stroke="none"/><circle cx="826.3" cy="171.7" r="1.3" stroke="none"/><circle cx="821" cy="166.4" r="1.3" stroke="none"/><circle cx="821" cy="159" r="1.3" stroke="none"/><circle cx="826.3" cy="153.7" r="1.3" stroke="none"/><circle cx="833.7" cy="153.7" r="1.3" stroke="none"/><circle cx="839" cy="159" r="1.3" stroke="none"/></g><g fill="#ee8a6e" stroke="#ee8a6e"><circle cx="888" cy="173" r="12.5" stroke="none"/><line x1="899.2" y1="173" x2="904" y2="173" stroke-width="2.4"/><circle cx="904.5" cy="173" r="2.1" stroke="none"/><line x1="896" y1="181" x2="899.3" y2="184.3" stroke-width="2.4"/><circle cx="899.7" cy="184.7" r="2.1" stroke="none"/><line x1="888" y1="184.2" x2="888" y2="189" stroke-width="2.4"/><circle cx="888" cy="189.5" r="2.1" stroke="none"/><line x1="880" y1="181" x2="876.7" y2="184.3" stroke-width="2.4"/><circle cx="876.3" cy="184.7" r="2.1" stroke="none"/><line x1="876.8" y1="173" x2="872" y2="173" stroke-width="2.4"/><circle cx="871.5" cy="173" r="2.1" stroke="none"/><line x1="880" y1="165" x2="876.7" y2="161.7" stroke-width="2.4"/><circle cx="876.3" cy="161.3" r="2.1" stroke="none"/><line x1="888" y1="161.8" x2="888" y2="157" stroke-width="2.4"/><circle cx="888" cy="156.5" r="2.1" stroke="none"/><line x1="896" y1="165" x2="899.3" y2="161.7" stroke-width="2.4"/><circle cx="899.7" cy="161.3" r="2.1" stroke="none"/><circle cx="899.2" cy="177.6" r="1.6" stroke="none"/><circle cx="892.6" cy="184.2" r="1.6" stroke="none"/><circle cx="883.4" cy="184.2" r="1.6" stroke="none"/><circle cx="876.8" cy="177.6" r="1.6" stroke="none"/><circle cx="876.8" cy="168.4" r="1.6" stroke="none"/><circle cx="883.4" cy="161.8" r="1.6" stroke="none"/><circle cx="892.6" cy="161.8" r="1.6" stroke="none"/><circle cx="899.2" cy="168.4" r="1.6" stroke="none"/></g><g fill="#ee8a6e" stroke="#ee8a6e"><circle cx="750" cy="185.6" r="12.5" stroke="none"/><line x1="761.2" y1="185.6" x2="766" y2="185.6" stroke-width="2.4"/><circle cx="766.5" cy="185.6" r="2.1" stroke="none"/><line x1="758" y1="193.6" x2="761.3" y2="196.9" stroke-width="2.4"/><circle cx="761.7" cy="197.3" r="2.1" stroke="none"/><line x1="750" y1="196.8" x2="750" y2="201.6" stroke-width="2.4"/><circle cx="750" cy="202.1" r="2.1" stroke="none"/><line x1="742" y1="193.6" x2="738.7" y2="196.9" stroke-width="2.4"/><circle cx="738.3" cy="197.3" r="2.1" stroke="none"/><line x1="738.8" y1="185.6" x2="734" y2="185.6" stroke-width="2.4"/><circle cx="733.5" cy="185.6" r="2.1" stroke="none"/><line x1="742" y1="177.6" x2="738.7" y2="174.3" stroke-width="2.4"/><circle cx="738.3" cy="173.9" r="2.1" stroke="none"/><line x1="750" y1="174.3" x2="750" y2="169.6" stroke-width="2.4"/><circle cx="750" cy="169.1" r="2.1" stroke="none"/><line x1="758" y1="177.6" x2="761.3" y2="174.3" stroke-width="2.4"/><circle cx="761.7" cy="173.9" r="2.1" stroke="none"/><circle cx="761.2" cy="190.2" r="1.6" stroke="none"/><circle cx="754.6" cy="196.8" r="1.6" stroke="none"/><circle cx="745.4" cy="196.8" r="1.6" stroke="none"/><circle cx="738.8" cy="190.2" r="1.6" stroke="none"/><circle cx="738.8" cy="181" r="1.6" stroke="none"/><circle cx="745.4" cy="174.4" r="1.6" stroke="none"/><circle cx="754.6" cy="174.4" r="1.6" stroke="none"/><circle cx="761.2" cy="181" r="1.6" stroke="none"/></g><g fill="#ee8a6e" stroke="#ee8a6e"><circle cx="931.7" cy="200.8" r="11.5" stroke="none"/><line x1="942.1" y1="200.8" x2="946.4" y2="200.8" stroke-width="2.2"/><circle cx="946.9" cy="200.8" r="2" stroke="none"/><line x1="939" y1="208.1" x2="942.1" y2="211.2" stroke-width="2.2"/><circle cx="942.4" cy="211.5" r="2" stroke="none"/><line x1="931.7" y1="211.2" x2="931.7" y2="215.5" stroke-width="2.2"/><circle cx="931.7" cy="216" r="2" stroke="none"/><line x1="924.4" y1="208.1" x2="921.3" y2="211.2" stroke-width="2.2"/><circle cx="921" cy="211.5" r="2" stroke="none"/><line x1="921.4" y1="200.8" x2="917" y2="200.8" stroke-width="2.2"/><circle cx="916.5" cy="200.8" r="2" stroke="none"/><line x1="924.4" y1="193.5" x2="921.3" y2="190.4" stroke-width="2.2"/><circle cx="921" cy="190.1" r="2" stroke="none"/><line x1="931.7" y1="190.5" x2="931.7" y2="186.1" stroke-width="2.2"/><circle cx="931.7" cy="185.6" r="2" stroke="none"/><line x1="939" y1="193.5" x2="942.1" y2="190.4" stroke-width="2.2"/><circle cx="942.4" cy="190.1" r="2" stroke="none"/><circle cx="942" cy="205.1" r="1.5" stroke="none"/><circle cx="936" cy="211.1" r="1.5" stroke="none"/><circle cx="927.4" cy="211.1" r="1.5" stroke="none"/><circle cx="921.4" cy="205.1" r="1.5" stroke="none"/><circle cx="921.4" cy="196.5" r="1.5" stroke="none"/><circle cx="927.4" cy="190.5" r="1.5" stroke="none"/><circle cx="936" cy="190.5" r="1.5" stroke="none"/><circle cx="942" cy="196.5" r="1.5" stroke="none"/></g><g stroke="#ee8a6e" opacity="0.7" stroke-width="1.2"><circle cx="848" cy="128" r="3.3" fill="#ee8a6e" stroke="none"/><line x1="848" y1="128" x2="853.5" y2="128"/><line x1="848" y1="128" x2="852.4" y2="131.2"/><line x1="848" y1="128" x2="849.7" y2="133.2"/><line x1="848" y1="128" x2="846.3" y2="133.2"/><line x1="848" y1="128" x2="843.6" y2="131.2"/><line x1="848" y1="128" x2="842.5" y2="128"/><line x1="848" y1="128" x2="843.6" y2="124.8"/><line x1="848" y1="128" x2="846.3" y2="122.8"/><line x1="848" y1="128" x2="849.7" y2="122.8"/><line x1="848" y1="128" x2="852.4" y2="124.8"/></g><g stroke="#ee8a6e" opacity="0.7" stroke-width="1.2"><circle cx="922" cy="139.3" r="3.3" fill="#ee8a6e" stroke="none"/><line x1="922" y1="139.3" x2="927.5" y2="139.3"/><line x1="922" y1="139.3" x2="926.4" y2="142.5"/><line x1="922" y1="139.3" x2="923.7" y2="144.5"/><line x1="922" y1="139.3" x2="920.3" y2="144.5"/><line x1="922" y1="139.3" x2="917.6" y2="142.5"/><line x1="922" y1="139.3" x2="916.5" y2="139.3"/><line x1="922" y1="139.3" x2="917.6" y2="136.1"/><line x1="922" y1="139.3" x2="920.3" y2="134.1"/><line x1="922" y1="139.3" x2="923.7" y2="134.1"/><line x1="922" y1="139.3" x2="926.4" y2="136.1"/></g><g stroke="#ee8a6e" opacity="0.7" stroke-width="1.2"><circle cx="712.8" cy="165.7" r="3.3" fill="#ee8a6e" stroke="none"/><line x1="712.8" y1="165.7" x2="718.3" y2="165.7"/><line x1="712.8" y1="165.7" x2="717.2" y2="168.9"/><line x1="712.8" y1="165.7" x2="714.5" y2="170.9"/><line x1="712.8" y1="165.7" x2="711.1" y2="170.9"/><line x1="712.8" y1="165.7" x2="708.4" y2="168.9"/><line x1="712.8" y1="165.7" x2="707.3" y2="165.7"/><line x1="712.8" y1="165.7" x2="708.4" y2="162.5"/><line x1="712.8" y1="165.7" x2="711.1" y2="160.5"/><line x1="712.8" y1="165.7" x2="714.5" y2="160.5"/><line x1="712.8" y1="165.7" x2="717.2" y2="162.5"/></g><g stroke="#ee8a6e" opacity="0.7" stroke-width="1.2"><circle cx="850.6" cy="185.6" r="3.3" fill="#ee8a6e" stroke="none"/><line x1="850.6" y1="185.6" x2="856.1" y2="185.6"/><line x1="850.6" y1="185.6" x2="855" y2="188.8"/><line x1="850.6" y1="185.6" x2="852.3" y2="190.8"/><line x1="850.6" y1="185.6" x2="848.9" y2="190.8"/><line x1="850.6" y1="185.6" x2="846.2" y2="188.8"/><line x1="850.6" y1="185.6" x2="845.1" y2="185.6"/><line x1="850.6" y1="185.6" x2="846.2" y2="182.4"/><line x1="850.6" y1="185.6" x2="848.9" y2="180.4"/><line x1="850.6" y1="185.6" x2="852.3" y2="180.4"/><line x1="850.6" y1="185.6" x2="855" y2="182.4"/></g><g stroke="#ee8a6e" opacity="0.7" stroke-width="1.2"><circle cx="939" cy="167.4" r="3.3" fill="#ee8a6e" stroke="none"/><line x1="939" y1="167.4" x2="944.5" y2="167.4"/><line x1="939" y1="167.4" x2="943.4" y2="170.6"/><line x1="939" y1="167.4" x2="940.7" y2="172.6"/><line x1="939" y1="167.4" x2="937.3" y2="172.6"/><line x1="939" y1="167.4" x2="934.6" y2="170.6"/><line x1="939" y1="167.4" x2="933.5" y2="167.4"/><line x1="939" y1="167.4" x2="934.6" y2="164.2"/><line x1="939" y1="167.4" x2="937.3" y2="162.2"/><line x1="939" y1="167.4" x2="940.7" y2="162.2"/><line x1="939" y1="167.4" x2="943.4" y2="164.2"/></g><g stroke="#ee8a6e" opacity="0.7" stroke-width="1.2"><circle cx="720.8" cy="219.9" r="3.3" fill="#ee8a6e" stroke="none"/><line x1="720.8" y1="219.9" x2="726.3" y2="219.9"/><line x1="720.8" y1="219.9" x2="725.2" y2="223.1"/><line x1="720.8" y1="219.9" x2="722.5" y2="225.1"/><line x1="720.8" y1="219.9" x2="719.1" y2="225.1"/><line x1="720.8" y1="219.9" x2="716.4" y2="223.1"/><line x1="720.8" y1="219.9" x2="715.3" y2="219.9"/><line x1="720.8" y1="219.9" x2="716.4" y2="216.7"/><line x1="720.8" y1="219.9" x2="719.1" y2="214.7"/><line x1="720.8" y1="219.9" x2="722.5" y2="214.7"/><line x1="720.8" y1="219.9" x2="725.2" y2="216.7"/></g><g stroke="#ee8a6e" opacity="0.7" stroke-width="1.2"><circle cx="966.9" cy="222.8" r="3.3" fill="#ee8a6e" stroke="none"/><line x1="966.9" y1="222.8" x2="972.4" y2="222.8"/><line x1="966.9" y1="222.8" x2="971.3" y2="226"/><line x1="966.9" y1="222.8" x2="968.6" y2="228"/><line x1="966.9" y1="222.8" x2="965.2" y2="228"/><line x1="966.9" y1="222.8" x2="962.5" y2="226"/><line x1="966.9" y1="222.8" x2="961.4" y2="222.8"/><line x1="966.9" y1="222.8" x2="962.5" y2="219.6"/><line x1="966.9" y1="222.8" x2="965.2" y2="217.6"/><line x1="966.9" y1="222.8" x2="968.6" y2="217.6"/><line x1="966.9" y1="222.8" x2="971.3" y2="219.6"/></g><g stroke="#ee8a6e" opacity="0.7" stroke-width="1.2"><circle cx="754.5" cy="146.6" r="3.3" fill="#ee8a6e" stroke="none"/><line x1="754.5" y1="146.6" x2="760" y2="146.6"/><line x1="754.5" y1="146.6" x2="758.9" y2="149.8"/><line x1="754.5" y1="146.6" x2="756.2" y2="151.8"/><line x1="754.5" y1="146.6" x2="752.8" y2="151.8"/><line x1="754.5" y1="146.6" x2="750.1" y2="149.8"/><line x1="754.5" y1="146.6" x2="749" y2="146.6"/><line x1="754.5" y1="146.6" x2="750.1" y2="143.4"/><line x1="754.5" y1="146.6" x2="752.8" y2="141.4"/><line x1="754.5" y1="146.6" x2="756.2" y2="141.4"/><line x1="754.5" y1="146.6" x2="758.9" y2="143.4"/></g><circle cx="761.8" cy="123.8" r="2.2" fill="#ee8a6e" opacity="0.85"/><circle cx="770.6" cy="124.6" r="2.2" fill="#ee8a6e" opacity="0.85"/><circle cx="817.5" cy="132.9" r="2.2" fill="#ee8a6e" opacity="0.85"/><circle cx="867" cy="151" r="2.2" fill="#ee8a6e" opacity="0.85"/><circle cx="790" cy="186.8" r="2.2" fill="#ee8a6e" opacity="0.85"/><circle cx="818.3" cy="188.5" r="2.2" fill="#ee8a6e" opacity="0.85"/><circle cx="903.3" cy="203.8" r="2.2" fill="#ee8a6e" opacity="0.85"/><circle cx="962.5" cy="192.6" r="2.2" fill="#ee8a6e" opacity="0.85"/><circle cx="751.5" cy="219.9" r="2.2" fill="#ee8a6e" opacity="0.85"/><circle cx="710.5" cy="195" r="2.2" fill="#ee8a6e" opacity="0.85"/><circle cx="934.6" cy="233" r="2.2" fill="#ee8a6e" opacity="0.85"/>
<ellipse cx="179" cy="312" rx="145" ry="17" fill="#e2e3e4" /><path d="M46,309 Q44,298 60,297 L300,297 Q314,299 312,309 Q305,318 250,318.5 L120,318 Q60,318 46,309Z" fill="#8dc46c" /><circle cx="72" cy="266.8" r="11.2" fill="#8fc672" /><circle cx="63.8" cy="273.5" r="9.3" fill="#8fc672" /><circle cx="80.2" cy="274.2" r="9.3" fill="#8fc672" /><circle cx="72" cy="275.8" r="10.5" fill="#8fc672" /><circle cx="90" cy="253.8" r="9" fill="#90c674" /><circle cx="83.4" cy="259.2" r="7.4" fill="#90c674" /><circle cx="96.6" cy="259.8" r="7.4" fill="#90c674" /><circle cx="90" cy="261" r="8.4" fill="#90c674" /><rect x="67" y="285" width="13" height="21" fill="#d4825c" /><path d="M84,250 Q90,236 100,228 L106,216 Q112,212 120,212.5 L150,213 Q160,216 172,218 L186,222 L190,248 L84,250Z" fill="#8ecad5" /><path d="M100,228 L106,216 Q110,213 114,214 L112,228Z" fill="#c7a55a" opacity="0.8"/><path d="M150,214 Q158,214 160,222 L158,232 L150,232Z" fill="#c9a063" opacity="0.75"/><circle cx="163" cy="238" r="3.5" fill="#d49a58" opacity="0.8"/><circle cx="210" cy="226.1" r="12.8" fill="#8dc467" /><circle cx="200.7" cy="233.7" r="10.5" fill="#8dc467" /><circle cx="219.3" cy="234.6" r="10.5" fill="#8dc467" /><circle cx="210" cy="236.2" r="11.9" fill="#8dc467" /><rect x="209" y="226" width="3" height="24" fill="#6f8f7a" /><polygon points="99,247 123.6,229.5 148,247" fill="#d3e3e9" /><rect x="101" y="246" width="45" height="64" fill="#c4dae1" /><rect x="110.7" y="250" width="10" height="6" fill="#f5f9fa" /><rect x="111.8" y="251.1" width="7.8" height="3.8" fill="#b9d5de" /><rect x="115.2" y="250" width="0.9" height="6" fill="#f5f9fa" /><rect x="127.3" y="250" width="10" height="6" fill="#f5f9fa" /><rect x="128.4" y="251.1" width="7.8" height="3.8" fill="#b9d5de" /><rect x="131.9" y="250" width="0.9" height="6" fill="#f5f9fa" /><rect x="110.7" y="262" width="10" height="6" fill="#f5f9fa" /><rect x="111.8" y="263.1" width="7.8" height="3.8" fill="#b9d5de" /><rect x="115.2" y="262" width="0.9" height="6" fill="#f5f9fa" /><rect x="127.3" y="262" width="10" height="6" fill="#f5f9fa" /><rect x="128.4" y="263.1" width="7.8" height="3.8" fill="#b9d5de" /><rect x="131.9" y="262" width="0.9" height="6" fill="#f5f9fa" /><rect x="110.7" y="275" width="10" height="10" fill="#f5f9fa" /><rect x="111.8" y="276.1" width="7.8" height="7.8" fill="#b9d5de" /><rect x="115.2" y="275" width="0.9" height="10" fill="#f5f9fa" /><rect x="127.3" y="275" width="10" height="10" fill="#f5f9fa" /><rect x="128.4" y="276.1" width="7.8" height="7.8" fill="#b9d5de" /><rect x="131.9" y="275" width="0.9" height="10" fill="#f5f9fa" /><rect x="108" y="287" width="32" height="23" fill="#5aa4b4" opacity="0.55"/><rect x="118" y="287" width="4" height="23" fill="#c9a060" opacity="0.6"/><rect x="101" y="285" width="7" height="25" fill="#b98a4c" opacity="0.6"/><polygon points="75,274 90,259.5 102,274" fill="#a9d0da" /><rect x="76" y="273" width="25" height="33" fill="#bcd6de" /><rect x="85" y="277" width="7" height="5" fill="#f3f7f9" /><rect x="86.1" y="278.1" width="4.8" height="2.8" fill="#b9d5de" /><rect x="88" y="277" width="0.9" height="5" fill="#f3f7f9" /><rect x="85" y="287" width="7" height="5" fill="#f3f7f9" /><rect x="86.1" y="288.1" width="4.8" height="2.8" fill="#b9d5de" /><rect x="88" y="287" width="0.9" height="5" fill="#f3f7f9" /><rect x="85" y="296" width="7" height="5" fill="#f3f7f9" /><rect x="86.1" y="297.1" width="4.8" height="2.8" fill="#b9d5de" /><rect x="88" y="296" width="0.9" height="5" fill="#f3f7f9" /><path d="M146,248 L150,235 L184,235 L187,248 L187,270 L146,270Z" fill="#90c9d4" /><rect x="146.8" y="269" width="39.2" height="41" fill="#aecfd9" /><rect x="155.3" y="274" width="8" height="6" fill="#f1f6f8" /><rect x="156.4" y="275.1" width="5.8" height="3.8" fill="#b9d5de" /><rect x="158.9" y="274" width="0.9" height="6" fill="#f1f6f8" /><rect x="169.7" y="274" width="8" height="6" fill="#f1f6f8" /><rect x="170.8" y="275.1" width="5.8" height="3.8" fill="#b9d5de" /><rect x="173.2" y="274" width="0.9" height="6" fill="#f1f6f8" /><rect x="155.3" y="284" width="8" height="6" fill="#f1f6f8" /><rect x="156.4" y="285.1" width="5.8" height="3.8" fill="#b9d5de" /><rect x="158.9" y="284" width="0.9" height="6" fill="#f1f6f8" /><rect x="169.7" y="284" width="8" height="6" fill="#f1f6f8" /><rect x="170.8" y="285.1" width="5.8" height="3.8" fill="#b9d5de" /><rect x="173.2" y="284" width="0.9" height="6" fill="#f1f6f8" /><rect x="155.3" y="295" width="8" height="6" fill="#f1f6f8" /><rect x="156.4" y="296.1" width="5.8" height="3.8" fill="#b9d5de" /><rect x="158.9" y="295" width="0.9" height="6" fill="#f1f6f8" /><rect x="169.7" y="295" width="8" height="6" fill="#f1f6f8" /><rect x="170.8" y="296.1" width="5.8" height="3.8" fill="#b9d5de" /><rect x="173.2" y="295" width="0.9" height="6" fill="#f1f6f8" /><rect x="157" y="252" width="6" height="5" fill="#eef5f7" /><rect x="158.1" y="253.1" width="3.8" height="2.8" fill="#b9d5de" /><rect x="159.6" y="252" width="0.9" height="5" fill="#eef5f7" /><rect x="170" y="252" width="6" height="5" fill="#eef5f7" /><rect x="171.1" y="253.1" width="3.8" height="2.8" fill="#b9d5de" /><rect x="172.6" y="252" width="0.9" height="5" fill="#eef5f7" /><rect x="157" y="292" width="5" height="15" fill="#bd8a56" /><path d="M188,269 Q196,252 210,246 L240,242.5 Q250,246 256,256 L262,269Z" fill="#df9a6f" /><rect x="185.5" y="268.6" width="70.5" height="41.4" fill="#b5d3dc" /><rect x="185.5" y="268.6" width="70.5" height="5.4" fill="#9dc4d0" /><rect x="193.2" y="276" width="10" height="6" fill="#f2f7f9" /><rect x="194.3" y="277.1" width="7.8" height="3.8" fill="#b9d5de" /><rect x="197.8" y="276" width="0.9" height="6" fill="#f2f7f9" /><rect x="208.4" y="276" width="10" height="6" fill="#f2f7f9" /><rect x="209.5" y="277.1" width="7.8" height="3.8" fill="#b9d5de" /><rect x="212.9" y="276" width="0.9" height="6" fill="#f2f7f9" /><rect x="223.6" y="276" width="10" height="6" fill="#f2f7f9" /><rect x="224.7" y="277.1" width="7.8" height="3.8" fill="#b9d5de" /><rect x="228.2" y="276" width="0.9" height="6" fill="#f2f7f9" /><rect x="238.8" y="276" width="10" height="6" fill="#f2f7f9" /><rect x="239.9" y="277.1" width="7.8" height="3.8" fill="#b9d5de" /><rect x="243.3" y="276" width="0.9" height="6" fill="#f2f7f9" /><rect x="193.2" y="287" width="10" height="6" fill="#f2f7f9" /><rect x="194.3" y="288.1" width="7.8" height="3.8" fill="#b9d5de" /><rect x="197.8" y="287" width="0.9" height="6" fill="#f2f7f9" /><rect x="208.4" y="287" width="10" height="6" fill="#f2f7f9" /><rect x="209.5" y="288.1" width="7.8" height="3.8" fill="#b9d5de" /><rect x="212.9" y="287" width="0.9" height="6" fill="#f2f7f9" /><rect x="223.6" y="287" width="10" height="6" fill="#f2f7f9" /><rect x="224.7" y="288.1" width="7.8" height="3.8" fill="#b9d5de" /><rect x="228.2" y="287" width="0.9" height="6" fill="#f2f7f9" /><rect x="238.8" y="287" width="10" height="6" fill="#f2f7f9" /><rect x="239.9" y="288.1" width="7.8" height="3.8" fill="#b9d5de" /><rect x="243.3" y="287" width="0.9" height="6" fill="#f2f7f9" /><rect x="193.2" y="297" width="10" height="6" fill="#f2f7f9" /><rect x="194.3" y="298.1" width="7.8" height="3.8" fill="#b9d5de" /><rect x="197.8" y="297" width="0.9" height="6" fill="#f2f7f9" /><rect x="208.4" y="297" width="10" height="6" fill="#f2f7f9" /><rect x="209.5" y="298.1" width="7.8" height="3.8" fill="#b9d5de" /><rect x="212.9" y="297" width="0.9" height="6" fill="#f2f7f9" /><rect x="223.6" y="297" width="10" height="6" fill="#f2f7f9" /><rect x="224.7" y="298.1" width="7.8" height="3.8" fill="#b9d5de" /><rect x="228.2" y="297" width="0.9" height="6" fill="#f2f7f9" /><rect x="238.8" y="297" width="10" height="6" fill="#f2f7f9" /><rect x="239.9" y="298.1" width="7.8" height="3.8" fill="#b9d5de" /><rect x="243.3" y="297" width="0.9" height="6" fill="#f2f7f9" /><ellipse cx="264" cy="271" rx="9" ry="13" fill="#5f8ea3" /><circle cx="287" cy="274.4" r="14.2" fill="#8dc56b" /><circle cx="276.6" cy="282.9" r="11.8" fill="#8dc56b" /><circle cx="297.4" cy="283.9" r="11.8" fill="#8dc56b" /><circle cx="287" cy="285.8" r="13.3" fill="#8dc56b" /><rect x="285" y="290" width="3" height="20" fill="#5e7c8c" /><rect x="256" y="283" width="14" height="23" fill="#a5cf86" opacity="0.9"/><ellipse cx="511.5" cy="254" rx="146.5" ry="18" fill="#e2e3e4" /><path d="M381,248 Q378,238 392,236 L630,236 Q644,238 642,248 Q632,260 580,261 L420,260 Q388,258 381,248Z" fill="#8dc46c" /><path d="M452,252 L515,252 L515,262 Q480,262 452,261Z" fill="#e2e3e4" /><circle cx="402" cy="206.1" r="12.8" fill="#8fc671" /><circle cx="392.6" cy="213.7" r="10.5" fill="#8fc671" /><circle cx="411.4" cy="214.6" r="10.5" fill="#8fc671" /><circle cx="402" cy="216.2" r="11.9" fill="#8fc671" /><circle cx="395" cy="224.5" r="7.5" fill="#90c674" /><circle cx="389.5" cy="229" r="6.2" fill="#90c674" /><circle cx="400.5" cy="229.5" r="6.2" fill="#90c674" /><circle cx="395" cy="230.5" r="7" fill="#90c674" /><rect x="392.7" y="232.8" width="22" height="17.5" fill="#d8744c" /><path d="M414,215 Q420,195 432,185 L440,165 Q450,155 465,155 L500,155 Q512,158 520,162 L524,200 L414,215Z" fill="#88c4cc" /><path d="M439,170 Q445,157 458,155 L455,172Z" fill="#a8b05c" opacity="0.85"/><path d="M490,156 L505,156 L506,180 L492,178Z" fill="#9aa8a8" opacity="0.6"/><path d="M425,200 L440,192 L440,206 L428,210Z" fill="#c89a5c" opacity="0.6"/><polygon points="413,216 428,199 441,199 441,216" fill="#90c8d0" /><rect x="414.7" y="215" width="26.3" height="32.4" fill="#c2d7dd" /><rect x="419" y="219" width="8" height="5" fill="#f4f8f9" /><rect x="420.1" y="220.1" width="5.8" height="2.8" fill="#b9d5de" /><rect x="422.6" y="219" width="0.9" height="5" fill="#f4f8f9" /><rect x="429" y="219" width="8" height="5" fill="#f4f8f9" /><rect x="430.1" y="220.1" width="5.8" height="2.8" fill="#b9d5de" /><rect x="432.6" y="219" width="0.9" height="5" fill="#f4f8f9" /><rect x="419" y="230" width="8" height="5" fill="#f4f8f9" /><rect x="420.1" y="231.1" width="5.8" height="2.8" fill="#b9d5de" /><rect x="422.6" y="230" width="0.9" height="5" fill="#f4f8f9" /><rect x="429" y="230" width="8" height="5" fill="#f4f8f9" /><rect x="430.1" y="231.1" width="5.8" height="2.8" fill="#b9d5de" /><rect x="432.6" y="230" width="0.9" height="5" fill="#f4f8f9" /><rect x="419" y="240" width="8" height="5" fill="#f4f8f9" /><rect x="420.1" y="241.1" width="5.8" height="2.8" fill="#b9d5de" /><rect x="422.6" y="240" width="0.9" height="5" fill="#f4f8f9" /><rect x="429" y="240" width="8" height="5" fill="#f4f8f9" /><rect x="430.1" y="241.1" width="5.8" height="2.8" fill="#b9d5de" /><rect x="432.6" y="240" width="0.9" height="5" fill="#f4f8f9" /><polygon points="440,189.5 463,171.5 486,189.5" fill="#d2e1e6" /><rect x="441" y="188.8" width="44" height="63.7" fill="#c6d9df" /><rect x="446.2" y="191" width="9" height="6" fill="#f4f8fa" /><rect x="447.4" y="192.1" width="6.8" height="3.8" fill="#b9d5de" /><rect x="450.3" y="191" width="0.9" height="6" fill="#f4f8fa" /><rect x="458.5" y="191" width="9" height="6" fill="#f4f8fa" /><rect x="459.6" y="192.1" width="6.8" height="3.8" fill="#b9d5de" /><rect x="462.6" y="191" width="0.9" height="6" fill="#f4f8fa" /><rect x="470.8" y="191" width="9" height="6" fill="#f4f8fa" /><rect x="471.9" y="192.1" width="6.8" height="3.8" fill="#b9d5de" /><rect x="474.8" y="191" width="0.9" height="6" fill="#f4f8fa" /><rect x="446.2" y="203" width="9" height="6" fill="#f4f8fa" /><rect x="447.4" y="204.1" width="6.8" height="3.8" fill="#b9d5de" /><rect x="450.3" y="203" width="0.9" height="6" fill="#f4f8fa" /><rect x="458.5" y="203" width="9" height="6" fill="#f4f8fa" /><rect x="459.6" y="204.1" width="6.8" height="3.8" fill="#b9d5de" /><rect x="462.6" y="203" width="0.9" height="6" fill="#f4f8fa" /><rect x="470.8" y="203" width="9" height="6" fill="#f4f8fa" /><rect x="471.9" y="204.1" width="6.8" height="3.8" fill="#b9d5de" /><rect x="474.8" y="203" width="0.9" height="6" fill="#f4f8fa" /><rect x="446.2" y="215" width="9" height="6" fill="#f4f8fa" /><rect x="447.4" y="216.1" width="6.8" height="3.8" fill="#b9d5de" /><rect x="450.3" y="215" width="0.9" height="6" fill="#f4f8fa" /><rect x="458.5" y="215" width="9" height="6" fill="#f4f8fa" /><rect x="459.6" y="216.1" width="6.8" height="3.8" fill="#b9d5de" /><rect x="462.6" y="215" width="0.9" height="6" fill="#f4f8fa" /><rect x="470.8" y="215" width="9" height="6" fill="#f4f8fa" /><rect x="471.9" y="216.1" width="6.8" height="3.8" fill="#b9d5de" /><rect x="474.8" y="215" width="0.9" height="6" fill="#f4f8fa" /><rect x="443" y="228" width="40" height="24.5" fill="#6aa2a8" opacity="0.55"/><rect x="462" y="230" width="6" height="22.5" fill="#bdd4da" /><rect x="446" y="232" width="6" height="18" fill="#b89a58" opacity="0.7"/><path d="M484.5,212 L487,175 Q492,168 500,167.6 L520,168 L524,212Z" fill="#8ac6cf" /><rect x="484.5" y="211.5" width="42" height="41" fill="#bcd5dc" /><rect x="492" y="214" width="7" height="5" fill="#f2f7f9" /><rect x="493.1" y="215.1" width="4.8" height="2.8" fill="#b9d5de" /><rect x="495.1" y="214" width="0.9" height="5" fill="#f2f7f9" /><rect x="502" y="214" width="7" height="5" fill="#f2f7f9" /><rect x="503.1" y="215.1" width="4.8" height="2.8" fill="#b9d5de" /><rect x="505.1" y="214" width="0.9" height="5" fill="#f2f7f9" /><rect x="512" y="214" width="7" height="5" fill="#f2f7f9" /><rect x="513.1" y="215.1" width="4.8" height="2.8" fill="#b9d5de" /><rect x="515" y="214" width="0.9" height="5" fill="#f2f7f9" /><rect x="492" y="224" width="7" height="5" fill="#f2f7f9" /><rect x="493.1" y="225.1" width="4.8" height="2.8" fill="#b9d5de" /><rect x="495.1" y="224" width="0.9" height="5" fill="#f2f7f9" /><rect x="502" y="224" width="7" height="5" fill="#f2f7f9" /><rect x="503.1" y="225.1" width="4.8" height="2.8" fill="#b9d5de" /><rect x="505.1" y="224" width="0.9" height="5" fill="#f2f7f9" /><rect x="512" y="224" width="7" height="5" fill="#f2f7f9" /><rect x="513.1" y="225.1" width="4.8" height="2.8" fill="#b9d5de" /><rect x="515" y="224" width="0.9" height="5" fill="#f2f7f9" /><rect x="492" y="236" width="7" height="5" fill="#f2f7f9" /><rect x="493.1" y="237.1" width="4.8" height="2.8" fill="#b9d5de" /><rect x="495.1" y="236" width="0.9" height="5" fill="#f2f7f9" /><rect x="502" y="236" width="7" height="5" fill="#f2f7f9" /><rect x="503.1" y="237.1" width="4.8" height="2.8" fill="#b9d5de" /><rect x="505.1" y="236" width="0.9" height="5" fill="#f2f7f9" /><rect x="512" y="236" width="7" height="5" fill="#f2f7f9" /><rect x="513.1" y="237.1" width="4.8" height="2.8" fill="#b9d5de" /><rect x="515" y="236" width="0.9" height="5" fill="#f2f7f9" /><rect x="496.7" y="195" width="5" height="5" fill="#eef6f7" /><rect x="497.8" y="196.1" width="2.8" height="2.8" fill="#b9d5de" /><rect x="498.7" y="195" width="0.9" height="5" fill="#eef6f7" /><rect x="508.3" y="195" width="5" height="5" fill="#eef6f7" /><rect x="509.4" y="196.1" width="2.8" height="2.8" fill="#b9d5de" /><rect x="510.4" y="195" width="0.9" height="5" fill="#eef6f7" /><path d="M518,192 L520,166 Q535,163.6 550,164.5 L562,168 Q570,172 572,180 L576,192Z" fill="#b38f62" /><path d="M535,190 L545,176 L548,196Z" fill="#8a8078" opacity="0.5"/><path d="M526,212 L532,192 Q540,187 555,187.4 L578,188 Q586,195 592,212Z" fill="#89c6ce" /><rect x="526" y="211.5" width="63" height="41.8" fill="#b5d2da" /><rect x="526" y="211.5" width="63" height="4.5" fill="#9cc5cf" /><rect x="531.2" y="218" width="8" height="5" fill="#f2f7f9" /><rect x="532.3" y="219.1" width="5.8" height="2.8" fill="#b9d5de" /><rect x="534.7" y="218" width="0.9" height="5" fill="#f2f7f9" /><rect x="542.3" y="218" width="8" height="5" fill="#f2f7f9" /><rect x="543.4" y="219.1" width="5.8" height="2.8" fill="#b9d5de" /><rect x="545.9" y="218" width="0.9" height="5" fill="#f2f7f9" /><rect x="553.5" y="218" width="8" height="5" fill="#f2f7f9" /><rect x="554.6" y="219.1" width="5.8" height="2.8" fill="#b9d5de" /><rect x="557" y="218" width="0.9" height="5" fill="#f2f7f9" /><rect x="564.7" y="218" width="8" height="5" fill="#f2f7f9" /><rect x="565.8" y="219.1" width="5.8" height="2.8" fill="#b9d5de" /><rect x="568.2" y="218" width="0.9" height="5" fill="#f2f7f9" /><rect x="575.8" y="218" width="8" height="5" fill="#f2f7f9" /><rect x="576.9" y="219.1" width="5.8" height="2.8" fill="#b9d5de" /><rect x="579.4" y="218" width="0.9" height="5" fill="#f2f7f9" /><rect x="531.2" y="229" width="8" height="5" fill="#f2f7f9" /><rect x="532.3" y="230.1" width="5.8" height="2.8" fill="#b9d5de" /><rect x="534.7" y="229" width="0.9" height="5" fill="#f2f7f9" /><rect x="542.3" y="229" width="8" height="5" fill="#f2f7f9" /><rect x="543.4" y="230.1" width="5.8" height="2.8" fill="#b9d5de" /><rect x="545.9" y="229" width="0.9" height="5" fill="#f2f7f9" /><rect x="553.5" y="229" width="8" height="5" fill="#f2f7f9" /><rect x="554.6" y="230.1" width="5.8" height="2.8" fill="#b9d5de" /><rect x="557" y="229" width="0.9" height="5" fill="#f2f7f9" /><rect x="564.7" y="229" width="8" height="5" fill="#f2f7f9" /><rect x="565.8" y="230.1" width="5.8" height="2.8" fill="#b9d5de" /><rect x="568.2" y="229" width="0.9" height="5" fill="#f2f7f9" /><rect x="575.8" y="229" width="8" height="5" fill="#f2f7f9" /><rect x="576.9" y="230.1" width="5.8" height="2.8" fill="#b9d5de" /><rect x="579.4" y="229" width="0.9" height="5" fill="#f2f7f9" /><rect x="531.2" y="240" width="8" height="5" fill="#f2f7f9" /><rect x="532.3" y="241.1" width="5.8" height="2.8" fill="#b9d5de" /><rect x="534.7" y="240" width="0.9" height="5" fill="#f2f7f9" /><rect x="542.3" y="240" width="8" height="5" fill="#f2f7f9" /><rect x="543.4" y="241.1" width="5.8" height="2.8" fill="#b9d5de" /><rect x="545.9" y="240" width="0.9" height="5" fill="#f2f7f9" /><rect x="553.5" y="240" width="8" height="5" fill="#f2f7f9" /><rect x="554.6" y="241.1" width="5.8" height="2.8" fill="#b9d5de" /><rect x="557" y="240" width="0.9" height="5" fill="#f2f7f9" /><rect x="564.7" y="240" width="8" height="5" fill="#f2f7f9" /><rect x="565.8" y="241.1" width="5.8" height="2.8" fill="#b9d5de" /><rect x="568.2" y="240" width="0.9" height="5" fill="#f2f7f9" /><rect x="575.8" y="240" width="8" height="5" fill="#f2f7f9" /><rect x="576.9" y="241.1" width="5.8" height="2.8" fill="#b9d5de" /><rect x="579.4" y="240" width="0.9" height="5" fill="#f2f7f9" /><ellipse cx="598" cy="213" rx="10" ry="12" fill="#5b8b9b" /><circle cx="617" cy="215.7" r="13.5" fill="#8cc56a" /><circle cx="607.1" cy="223.8" r="11.2" fill="#8cc56a" /><circle cx="626.9" cy="224.7" r="11.2" fill="#8cc56a" /><circle cx="617" cy="226.5" r="12.6" fill="#8cc56a" /><rect x="615.5" y="232" width="3" height="20.5" fill="#5b7a80" /><rect x="589" y="228" width="11" height="24" fill="#a8d188" /><ellipse cx="843" cy="311" rx="148" ry="17" fill="#e2e3e4" /><path d="M709,305 Q706,292 720,290 L966,290 Q979,292 977,304 Q970,316 930,317.5 L790,316.5 Q760,315 740,314.5 Q712,313 709,305Z" fill="#7dbd5c" /><path d="M786,309 L830,309 L860,313 L786,314Z" fill="#dfe3dc" /><path d="M752.7,241 Q762,225 772,214 Q780,202 790,198 L805,197.5 Q815,201 830,203 L866,206 Q878,207 884,212 Q898,216 903,224 L904,236 Q918,246 924,255 L930,280 L760,285Z" fill="#8c6c5e" /><path d="M771,222 Q776,216 784,214 L786,222 L775,228Z" fill="#e2874c" /><path d="M863,211 L884,210 Q896,218 900,228 L902,236 L870,236Z" fill="#e57f46" /><path d="M840,215 L862,212 L866,236 L842,236Z" fill="#a07a66" opacity="0.6"/><circle cx="734" cy="249" r="11.5" fill="#8aab5a" /><ellipse cx="717" cy="281" rx="5" ry="11" fill="#7b8a42" /><path d="M719,269 L728,258 L740,246 L748,242.7 L756,247 L765,256 L773,269Z" fill="#e5804d" /><path d="M742,256 L752,248 L760,256 L756,262 L746,262Z" fill="#d86e40" opacity="0.6"/><rect x="720.5" y="268" width="51.3" height="37.7" fill="#df7d52" /><rect x="725.6" y="272" width="9.4" height="11.7" fill="#f7efe9" /><rect x="727.1" y="273.5" width="6.4" height="8.7" fill="#d8b8a8" /><rect x="729.8" y="272" width="1" height="11.7" fill="#f7efe9" /><rect x="747" y="271" width="22.6" height="14" fill="#f7efe9" /><rect x="748.5" y="272.5" width="19.6" height="11" fill="#d8b8a8" /><rect x="757.8" y="271" width="1" height="14" fill="#f7efe9" /><rect x="725.6" y="291" width="9.4" height="10" fill="#f7efe9" /><rect x="727.1" y="292.5" width="6.4" height="7" fill="#d8b8a8" /><rect x="729.8" y="291" width="1" height="10" fill="#f7efe9" /><rect x="747" y="291" width="22" height="12" fill="#f7efe9" /><rect x="748.5" y="292.5" width="19" height="9" fill="#d8b8a8" /><rect x="757.5" y="291" width="1" height="12" fill="#f7efe9" /><polygon points="771,238 797.4,218.6 824,238" fill="#dcc6b6" /><rect x="771.8" y="237.6" width="51.2" height="71.8" fill="#c8a690" /><rect x="776" y="239.8" width="11" height="8.8" fill="#f7f1ec" /><rect x="777.3" y="241.1" width="8.4" height="6.2" fill="#d5c0b2" /><rect x="781" y="239.8" width="1" height="8.8" fill="#f7f1ec" /><rect x="776" y="253" width="11" height="11.7" fill="#f7f1ec" /><rect x="777.3" y="254.3" width="8.4" height="9.1" fill="#d5c0b2" /><rect x="781" y="253" width="1" height="11.7" fill="#f7f1ec" /><rect x="776" y="267.6" width="11" height="14.7" fill="#f7f1ec" /><rect x="777.3" y="268.9" width="8.4" height="12.1" fill="#d5c0b2" /><rect x="781" y="267.6" width="1" height="14.7" fill="#f7f1ec" /><rect x="794.5" y="239.8" width="8.5" height="8.8" fill="#f7f1ec" /><rect x="795.8" y="241.1" width="5.9" height="6.2" fill="#d5c0b2" /><rect x="798.2" y="239.8" width="1" height="8.8" fill="#f7f1ec" /><rect x="794.5" y="253" width="8.5" height="11.7" fill="#f7f1ec" /><rect x="795.8" y="254.3" width="5.9" height="9.1" fill="#d5c0b2" /><rect x="798.2" y="253" width="1" height="11.7" fill="#f7f1ec" /><rect x="794.5" y="267.6" width="8.5" height="14.7" fill="#f7f1ec" /><rect x="795.8" y="268.9" width="5.9" height="12.1" fill="#d5c0b2" /><rect x="798.2" y="267.6" width="1" height="14.7" fill="#f7f1ec" /><rect x="809" y="239.8" width="9.6" height="8.8" fill="#f7f1ec" /><rect x="810.3" y="241.1" width="7" height="6.2" fill="#d5c0b2" /><rect x="813.3" y="239.8" width="1" height="8.8" fill="#f7f1ec" /><rect x="809" y="253" width="9.6" height="11.7" fill="#f7f1ec" /><rect x="810.3" y="254.3" width="7" height="9.1" fill="#d5c0b2" /><rect x="813.3" y="253" width="1" height="11.7" fill="#f7f1ec" /><rect x="809" y="267.6" width="9.6" height="14.7" fill="#f7f1ec" /><rect x="810.3" y="268.9" width="7" height="12.1" fill="#d5c0b2" /><rect x="813.3" y="267.6" width="1" height="14.7" fill="#f7f1ec" /><rect x="774" y="285" width="47" height="24.4" fill="#8f6e60" /><rect x="791" y="287" width="5" height="22" fill="#d9a890" opacity="0.8"/><rect x="805" y="288" width="8" height="21" fill="#7a5e52" /><path d="M823.8,262 L825,245 Q832,235 842,234.5 Q850,236 851,246 L851,262Z" fill="#e48149" /><rect x="831" y="243" width="5" height="9" fill="#f3f0ec" /><path d="M846,262 L850,246 L866,240 L872,234 L918,234 L927,262Z" fill="#ea7d45" /><rect x="886" y="242" width="4" height="6" fill="#eef2f4" /><rect x="906" y="244" width="3" height="6" fill="#eef2f4" /><rect x="823.8" y="261.8" width="100.2" height="46.8" fill="#c49a84" /><rect x="823.8" y="261.8" width="100.2" height="7.2" fill="#9c7464" /><rect x="826" y="272" width="10" height="9" fill="#f4eee9" /><rect x="827.2" y="273.2" width="7.6" height="6.6" fill="#d8c4b8" /><rect x="826" y="284" width="10" height="8" fill="#f4eee9" /><rect x="827.2" y="285.2" width="7.6" height="5.6" fill="#d8c4b8" /><rect x="826" y="296" width="10" height="10" fill="#f4eee9" /><rect x="827.2" y="297.2" width="7.6" height="7.6" fill="#d8c4b8" /><rect x="842" y="272" width="10" height="9" fill="#f4eee9" /><rect x="843.2" y="273.2" width="7.6" height="6.6" fill="#d8c4b8" /><rect x="842" y="284" width="10" height="8" fill="#f4eee9" /><rect x="843.2" y="285.2" width="7.6" height="5.6" fill="#d8c4b8" /><rect x="842" y="296" width="10" height="10" fill="#f4eee9" /><rect x="843.2" y="297.2" width="7.6" height="7.6" fill="#d8c4b8" /><rect x="870" y="272" width="12" height="9" fill="#f4eee9" /><rect x="871.2" y="273.2" width="9.6" height="6.6" fill="#d8c4b8" /><rect x="870" y="284" width="12" height="8" fill="#f4eee9" /><rect x="871.2" y="285.2" width="9.6" height="5.6" fill="#d8c4b8" /><rect x="870" y="296" width="12" height="10" fill="#f4eee9" /><rect x="871.2" y="297.2" width="9.6" height="7.6" fill="#d8c4b8" /><rect x="888" y="272" width="12" height="9" fill="#f4eee9" /><rect x="889.2" y="273.2" width="9.6" height="6.6" fill="#d8c4b8" /><rect x="888" y="284" width="12" height="8" fill="#f4eee9" /><rect x="889.2" y="285.2" width="9.6" height="5.6" fill="#d8c4b8" /><rect x="888" y="296" width="12" height="10" fill="#f4eee9" /><rect x="889.2" y="297.2" width="9.6" height="7.6" fill="#d8c4b8" /><rect x="906" y="272" width="12" height="9" fill="#f4eee9" /><rect x="907.2" y="273.2" width="9.6" height="6.6" fill="#d8c4b8" /><rect x="906" y="284" width="12" height="8" fill="#f4eee9" /><rect x="907.2" y="285.2" width="9.6" height="5.6" fill="#d8c4b8" /><rect x="906" y="296" width="12" height="10" fill="#f4eee9" /><rect x="907.2" y="297.2" width="9.6" height="7.6" fill="#d8c4b8" /><rect x="856" y="262" width="10" height="46.6" fill="#b08a76" /><ellipse cx="931" cy="264" rx="9" ry="14" fill="#7b5b4b" /><circle cx="955" cy="263" r="15" fill="#88c468" /><circle cx="944" cy="272" r="12.4" fill="#88c468" /><circle cx="966" cy="273" r="12.4" fill="#88c468" /><circle cx="955" cy="275" r="14" fill="#88c468" /><rect x="947.5" y="282" width="3" height="26.6" fill="#5b5b50" /><ellipse cx="926" cy="292" rx="9" ry="16" fill="#a9cf84" />
<text x="103" y="363.2" font-family='"Liberation Sans", sans-serif' font-weight="bold" font-size="25" fill="#486b7b" textLength="158" lengthAdjust="spacingAndGlyphs">Low Exposure</text>
<text x="419" y="306.5" font-family='"Liberation Sans", sans-serif' font-weight="bold" font-size="26.5" fill="#486b7b" textLength="187" lengthAdjust="spacingAndGlyphs">Viral Exposure</text>
<text x="755.4" y="362.8" font-family='"Liberation Sans", sans-serif' font-weight="bold" font-size="25" fill="#486b7b" textLength="174.3" lengthAdjust="spacingAndGlyphs">Virall Expection</text>
<rect x="161.6" y="382" width="13.5" height="107" rx="4" fill="#e7eff3"/><path d="M151.3,487.5 L185.3,487.5 L168.3,513 Z" fill="#e7eff3" stroke="#e7eff3" stroke-width="2" stroke-linejoin="round"/>
<rect x="846.2" y="382" width="13.5" height="106" rx="4" fill="#e7eff3"/><path d="M836,486.5 L870,486.5 L853,512 Z" fill="#e7eff3" stroke="#e7eff3" stroke-width="2" stroke-linejoin="round"/>
<line x1="343" y1="466" x2="343" y2="852" stroke="#c9d6de" stroke-width="1.6" stroke-dasharray="9 3.5"/>
<line x1="680.7" y1="476" x2="680.7" y2="852" stroke="#c9d6de" stroke-width="1.6" stroke-dasharray="9 3.5"/>
<line x1="511.7" y1="325" x2="511.7" y2="888" stroke="#c9d6de" stroke-width="1.6" stroke-dasharray="9 3.5"/>
<defs><linearGradient id="cg" x1="0" x2="1024" y1="0" y2="0" gradientUnits="userSpaceOnUse">
<stop offset="0.04" stop-color="#dcebf0"/>
<stop offset="0.10" stop-color="#cfe4ea"/>
<stop offset="0.16" stop-color="#b8d9de"/>
<stop offset="0.235" stop-color="#8ac3c6"/>
<stop offset="0.30" stop-color="#55b2b4"/>
<stop offset="0.35" stop-color="#5cb4a6"/>
<stop offset="0.38" stop-color="#6cb898"/>
<stop offset="0.41" stop-color="#7aba8c"/>
<stop offset="0.44" stop-color="#8cbc84"/>
<stop offset="0.47" stop-color="#a8bc76"/>
<stop offset="0.50" stop-color="#c4b96c"/>
<stop offset="0.54" stop-color="#dcb462"/>
<stop offset="0.58" stop-color="#eaaa58"/>
<stop offset="0.61" stop-color="#f39a50"/>
<stop offset="0.65" stop-color="#f28c5a"/>
<stop offset="0.70" stop-color="#ef8262"/>
<stop offset="0.76" stop-color="#ec9680"/>
<stop offset="0.84" stop-color="#efb4a6"/>
<stop offset="0.92" stop-color="#f2cec6"/>
<stop offset="0.96" stop-color="#f4d8d2"/>
</linearGradient></defs><path d="M42,628.6 L44.4,627.7 L46.7,626.8 L49.1,625.8 L51.4,624.9 L53.8,624 L56.1,623 L58.5,622.1 L60.8,621.1 L63.2,620.2 L65.6,619.2 L67.9,618.2 L70.3,617.2 L72.6,616.2 L75,615.2 L77.3,614.2 L79.7,613.2 L82.1,612.2 L84.4,611.2 L86.8,610.2 L89.1,609.1 L91.5,608.1 L93.8,607 L96.2,605.9 L98.5,604.8 L100.9,603.8 L103.3,602.7 L105.6,601.5 L108,600.4 L110.3,599.3 L112.7,598.2 L115,597 L117.4,595.9 L119.7,594.7 L122.1,593.5 L124.5,592.3 L126.8,591.1 L129.2,589.9 L131.5,588.7 L133.9,587.4 L136.2,586.2 L138.6,584.9 L140.9,583.6 L143.3,582.4 L145.7,581.1 L148,579.7 L150.4,578.4 L152.7,577.1 L155.1,575.7 L157.4,574.4 L159.8,573 L162.2,571.6 L164.5,570.2 L166.9,568.7 L169.2,567.3 L171.6,565.8 L173.9,564.4 L176.3,562.9 L178.6,561.4 L181,559.9 L183.4,558.3 L185.7,556.8 L188.1,555.2 L190.4,553.6 L192.8,552.1 L195.1,550.4 L197.5,548.8 L199.8,547.2 L202.2,545.5 L204.6,543.8 L206.9,542.1 L209.3,540.4 L211.6,538.7 L214,536.9 L216.3,535.2 L218.7,533.4 L221,531.6 L223.4,529.8 L225.8,528 L228.1,526.1 L230.5,524.3 L232.8,522.4 L235.2,520.5 L237.5,518.6 L239.9,516.7 L242.3,514.8 L244.6,512.9 L247,511 L249.3,509 L251.7,507.1 L254,505.1 L256.4,503.1 L258.7,501.1 L261.1,499.1 L263.5,497.1 L265.8,495.1 L268.2,493.1 L270.5,491 L272.9,489 L275.2,486.9 L277.6,484.9 L279.9,482.8 L282.3,480.8 L284.7,478.7 L287,476.6 L289.4,474.5 L291.7,472.4 L294.1,470.3 L296.4,468.2 L298.8,466.1 L301.1,464 L303.5,461.9 L305.9,459.7 L308.2,457.6 L310.6,455.5 L312.9,453.4 L315.3,451.3 L317.6,449.1 L320,447 L322.4,444.9 L324.7,442.9 L327.1,440.8 L329.4,438.7 L331.8,436.6 L334.1,434.6 L336.5,432.6 L338.8,430.5 L341.2,428.6 L343.6,426.6 L345.9,424.6 L348.3,422.7 L350.6,420.8 L353,418.9 L355.3,417 L357.7,415.2 L360,413.4 L362.4,411.6 L364.8,409.8 L367.1,408.1 L369.5,406.4 L371.8,404.7 L374.2,403.1 L376.5,401.5 L378.9,399.9 L381.2,398.3 L383.6,396.8 L386,395.3 L388.3,393.8 L390.7,392.3 L393,390.9 L395.4,389.5 L397.7,388.1 L400.1,386.7 L402.5,385.4 L404.8,384.1 L407.2,382.8 L409.5,381.5 L411.9,380.3 L414.2,379.1 L416.6,377.9 L418.9,376.7 L421.3,375.6 L423.7,374.5 L426,373.4 L428.4,372.3 L430.7,371.3 L433.1,370.3 L435.4,369.3 L437.8,368.3 L440.1,367.4 L442.5,366.5 L444.9,365.6 L447.2,364.8 L449.6,364 L451.9,363.2 L454.3,362.4 L456.6,361.7 L459,360.9 L461.3,360.3 L463.7,359.6 L466.1,359 L468.4,358.4 L470.8,357.8 L473.1,357.3 L475.5,356.8 L477.8,356.3 L480.2,355.8 L482.6,355.4 L484.9,355 L487.3,354.6 L489.6,354.3 L492,354 L494.3,353.7 L496.7,353.5 L499,353.3 L501.4,353.1 L503.8,352.9 L506.1,352.8 L508.5,352.7 L510.8,352.7 L513.2,352.6 L515.5,352.6 L517.9,352.7 L520.2,352.7 L522.6,352.8 L525,353 L527.3,353.1 L529.7,353.3 L532,353.6 L534.4,353.8 L536.7,354.1 L539.1,354.4 L541.4,354.7 L543.8,355.1 L546.2,355.5 L548.5,356 L550.9,356.4 L553.2,356.9 L555.6,357.4 L557.9,358 L560.3,358.5 L562.7,359.2 L565,359.8 L567.4,360.4 L569.7,361.1 L572.1,361.9 L574.4,362.6 L576.8,363.4 L579.1,364.2 L581.5,365 L583.9,365.9 L586.2,366.7 L588.6,367.6 L590.9,368.6 L593.3,369.5 L595.6,370.5 L598,371.5 L600.3,372.6 L602.7,373.6 L605.1,374.7 L607.4,375.9 L609.8,377 L612.1,378.2 L614.5,379.4 L616.8,380.6 L619.2,381.8 L621.5,383.1 L623.9,384.4 L626.3,385.7 L628.6,387 L631,388.4 L633.3,389.8 L635.7,391.2 L638,392.6 L640.4,394.1 L642.8,395.5 L645.1,397.1 L647.5,398.6 L649.8,400.1 L652.2,401.7 L654.5,403.3 L656.9,404.9 L659.2,406.5 L661.6,408.2 L664,409.9 L666.3,411.6 L668.7,413.3 L671,415.1 L673.4,416.8 L675.7,418.6 L678.1,420.4 L680.4,422.2 L682.8,424.1 L685.2,426 L687.5,427.8 L689.9,429.8 L692.2,431.7 L694.6,433.6 L696.9,435.6 L699.3,437.6 L701.6,439.6 L704,441.6 L706.4,443.7 L708.7,445.7 L711.1,447.8 L713.4,449.9 L715.8,452 L718.1,454.2 L720.5,456.3 L722.9,458.5 L725.2,460.7 L727.6,462.9 L729.9,465.1 L732.3,467.3 L734.6,469.5 L737,471.8 L739.3,474 L741.7,476.3 L744.1,478.5 L746.4,480.8 L748.8,483 L751.1,485.3 L753.5,487.5 L755.8,489.8 L758.2,492 L760.5,494.2 L762.9,496.4 L765.3,498.6 L767.6,500.8 L770,503 L772.3,505.1 L774.7,507.2 L777,509.3 L779.4,511.4 L781.7,513.5 L784.1,515.5 L786.5,517.5 L788.8,519.5 L791.2,521.5 L793.5,523.4 L795.9,525.3 L798.2,527.2 L800.6,529.1 L803,531 L805.3,532.8 L807.7,534.6 L810,536.4 L812.4,538.1 L814.7,539.9 L817.1,541.6 L819.4,543.3 L821.8,545 L824.2,546.7 L826.5,548.3 L828.9,549.9 L831.2,551.5 L833.6,553.1 L835.9,554.7 L838.3,556.2 L840.6,557.8 L843,559.3 L845.4,560.8 L847.7,562.3 L850.1,563.7 L852.4,565.2 L854.8,566.6 L857.1,568 L859.5,569.4 L861.8,570.7 L864.2,572.1 L866.6,573.4 L868.9,574.8 L871.3,576.1 L873.6,577.4 L876,578.7 L878.3,579.9 L880.7,581.2 L883.1,582.4 L885.4,583.6 L887.8,584.9 L890.1,586.1 L892.5,587.3 L894.8,588.5 L897.2,589.6 L899.5,590.8 L901.9,592 L904.3,593.1 L906.6,594.2 L909,595.4 L911.3,596.5 L913.7,597.6 L916,598.7 L918.4,599.8 L920.7,600.9 L923.1,602 L925.5,603.1 L927.8,604.2 L930.2,605.3 L932.5,606.4 L934.9,607.4 L937.2,608.5 L939.6,609.6 L941.9,610.6 L944.3,611.7 L946.7,612.8 L949,613.8 L951.4,614.9 L953.7,616 L956.1,617.1 L958.4,618.1 L960.8,619.2 L963.2,620.3 L965.5,621.3 L967.9,622.4 L970.2,623.5 L972.6,624.6 L974.9,625.7 L977.3,626.8 L979.6,627.9 L982,629 L982,629 L979.6,628.4 L977.3,627.8 L974.9,627.1 L972.6,626.5 L970.2,625.9 L967.9,625.3 L965.5,624.7 L963.2,624.1 L960.8,623.5 L958.4,622.9 L956.1,622.3 L953.7,621.7 L951.4,621 L949,620.4 L946.7,619.8 L944.3,619.2 L941.9,618.6 L939.6,618 L937.2,617.3 L934.9,616.7 L932.5,616.1 L930.2,615.4 L927.8,614.8 L925.5,614.2 L923.1,613.5 L920.7,612.8 L918.4,612.2 L916,611.5 L913.7,610.8 L911.3,610.1 L909,609.4 L906.6,608.7 L904.3,607.9 L901.9,607.2 L899.5,606.4 L897.2,605.7 L894.8,604.9 L892.5,604.1 L890.1,603.3 L887.8,602.5 L885.4,601.6 L883.1,600.8 L880.7,599.9 L878.3,599.1 L876,598.2 L873.6,597.2 L871.3,596.3 L868.9,595.4 L866.6,594.4 L864.2,593.4 L861.8,592.4 L859.5,591.4 L857.1,590.3 L854.8,589.3 L852.4,588.2 L850.1,587.1 L847.7,586 L845.4,584.8 L843,583.6 L840.6,582.4 L838.3,581.2 L835.9,580 L833.6,578.7 L831.2,577.4 L828.9,576.1 L826.5,574.8 L824.2,573.4 L821.8,572.1 L819.4,570.7 L817.1,569.2 L814.7,567.8 L812.4,566.3 L810,564.8 L807.7,563.3 L805.3,561.7 L803,560.1 L800.6,558.5 L798.2,556.9 L795.9,555.2 L793.5,553.5 L791.2,551.8 L788.8,550.1 L786.5,548.3 L784.1,546.5 L781.7,544.7 L779.4,542.8 L777,540.9 L774.7,539 L772.3,537.1 L770,535.1 L767.6,533.1 L765.3,531.1 L762.9,529.1 L760.5,527 L758.2,524.9 L755.8,522.9 L753.5,520.8 L751.1,518.7 L748.8,516.5 L746.4,514.4 L744.1,512.3 L741.7,510.1 L739.3,508 L737,505.9 L734.6,503.7 L732.3,501.6 L729.9,499.4 L727.6,497.3 L725.2,495.2 L722.9,493 L720.5,490.9 L718.1,488.8 L715.8,486.7 L713.4,484.7 L711.1,482.6 L708.7,480.5 L706.4,478.5 L704,476.5 L701.6,474.5 L699.3,472.5 L696.9,470.5 L694.6,468.5 L692.2,466.6 L689.9,464.6 L687.5,462.7 L685.2,460.8 L682.8,458.9 L680.4,457 L678.1,455.2 L675.7,453.3 L673.4,451.5 L671,449.7 L668.7,447.9 L666.3,446.1 L664,444.4 L661.6,442.6 L659.2,440.9 L656.9,439.2 L654.5,437.5 L652.2,435.8 L649.8,434.2 L647.5,432.6 L645.1,431 L642.8,429.4 L640.4,427.8 L638,426.3 L635.7,424.8 L633.3,423.3 L631,421.8 L628.6,420.3 L626.3,418.9 L623.9,417.5 L621.5,416.1 L619.2,414.7 L616.8,413.4 L614.5,412.1 L612.1,410.8 L609.8,409.5 L607.4,408.2 L605.1,407 L602.7,405.8 L600.3,404.7 L598,403.5 L595.6,402.4 L593.3,401.3 L590.9,400.2 L588.6,399.2 L586.2,398.2 L583.9,397.2 L581.5,396.2 L579.1,395.3 L576.8,394.4 L574.4,393.5 L572.1,392.7 L569.7,391.9 L567.4,391.1 L565,390.3 L562.7,389.6 L560.3,388.9 L557.9,388.2 L555.6,387.6 L553.2,387 L550.9,386.4 L548.5,385.8 L546.2,385.3 L543.8,384.9 L541.4,384.4 L539.1,384 L536.7,383.6 L534.4,383.3 L532,382.9 L529.7,382.6 L527.3,382.4 L525,382.2 L522.6,382 L520.2,381.8 L517.9,381.7 L515.5,381.7 L513.2,381.6 L510.8,381.6 L508.5,381.6 L506.1,381.7 L503.8,381.8 L501.4,381.9 L499,382.1 L496.7,382.3 L494.3,382.5 L492,382.8 L489.6,383.1 L487.3,383.5 L484.9,383.8 L482.6,384.2 L480.2,384.7 L477.8,385.1 L475.5,385.6 L473.1,386.2 L470.8,386.7 L468.4,387.3 L466.1,387.9 L463.7,388.6 L461.3,389.3 L459,390 L456.6,390.8 L454.3,391.5 L451.9,392.3 L449.6,393.2 L447.2,394 L444.9,394.9 L442.5,395.8 L440.1,396.8 L437.8,397.8 L435.4,398.8 L433.1,399.8 L430.7,400.9 L428.4,401.9 L426,403.1 L423.7,404.2 L421.3,405.4 L418.9,406.6 L416.6,407.8 L414.2,409 L411.9,410.3 L409.5,411.6 L407.2,412.9 L404.8,414.2 L402.5,415.6 L400.1,417 L397.7,418.4 L395.4,419.8 L393,421.3 L390.7,422.7 L388.3,424.2 L386,425.8 L383.6,427.3 L381.2,428.9 L378.9,430.5 L376.5,432.1 L374.2,433.8 L371.8,435.4 L369.5,437.2 L367.1,438.9 L364.8,440.6 L362.4,442.4 L360,444.2 L357.7,446.1 L355.3,447.9 L353,449.8 L350.6,451.7 L348.3,453.6 L345.9,455.6 L343.6,457.5 L341.2,459.5 L338.8,461.5 L336.5,463.5 L334.1,465.6 L331.8,467.6 L329.4,469.6 L327.1,471.7 L324.7,473.8 L322.4,475.8 L320,477.9 L317.6,480 L315.3,482 L312.9,484.1 L310.6,486.2 L308.2,488.3 L305.9,490.3 L303.5,492.4 L301.1,494.4 L298.8,496.5 L296.4,498.5 L294.1,500.5 L291.7,502.6 L289.4,504.6 L287,506.6 L284.7,508.5 L282.3,510.5 L279.9,512.5 L277.6,514.4 L275.2,516.4 L272.9,518.3 L270.5,520.2 L268.2,522.1 L265.8,524 L263.5,525.9 L261.1,527.8 L258.7,529.6 L256.4,531.5 L254,533.3 L251.7,535.1 L249.3,536.9 L247,538.7 L244.6,540.4 L242.3,542.2 L239.9,543.9 L237.5,545.6 L235.2,547.3 L232.8,549 L230.5,550.7 L228.1,552.3 L225.8,553.9 L223.4,555.5 L221,557.1 L218.7,558.7 L216.3,560.3 L214,561.8 L211.6,563.3 L209.3,564.8 L206.9,566.3 L204.6,567.8 L202.2,569.2 L199.8,570.6 L197.5,572 L195.1,573.4 L192.8,574.7 L190.4,576.1 L188.1,577.4 L185.7,578.7 L183.4,579.9 L181,581.2 L178.6,582.4 L176.3,583.7 L173.9,584.9 L171.6,586 L169.2,587.2 L166.9,588.3 L164.5,589.5 L162.2,590.6 L159.8,591.7 L157.4,592.7 L155.1,593.8 L152.7,594.8 L150.4,595.8 L148,596.9 L145.7,597.8 L143.3,598.8 L140.9,599.8 L138.6,600.7 L136.2,601.6 L133.9,602.6 L131.5,603.4 L129.2,604.3 L126.8,605.2 L124.5,606.1 L122.1,606.9 L119.7,607.7 L117.4,608.5 L115,609.3 L112.7,610.1 L110.3,610.9 L108,611.6 L105.6,612.4 L103.3,613.1 L100.9,613.8 L98.5,614.6 L96.2,615.3 L93.8,615.9 L91.5,616.6 L89.1,617.3 L86.8,617.9 L84.4,618.6 L82.1,619.2 L79.7,619.8 L77.3,620.5 L75,621.1 L72.6,621.6 L70.3,622.2 L67.9,622.8 L65.6,623.4 L63.2,623.9 L60.8,624.5 L58.5,625 L56.1,625.6 L53.8,626.1 L51.4,626.6 L49.1,627.1 L46.7,627.6 L44.4,628.1 L42,628.6Z" fill="url(#cg)"/><path d="M297.8,462.5 Q296.5,452.5 291.5,445 Q302.5,448.5 313.4,448.4 L333.75,467 Q333.5,477.5 336.5,486.5 Q327.5,482 317.3,481 Z" fill="#53b2b4" stroke="#53b2b4" stroke-width="2.6" stroke-linejoin="round"/><path d="M689.3,466.9 L710.3,448.8 Q721.2,449 732,445.5 Q727.5,453.5 726.4,463 L705.9,481 Q697,481.5 688,485.5 Q690.5,477 689.3,466.9 Z" fill="#ef8363" stroke="#ef8363" stroke-width="2.6" stroke-linejoin="round"/>
<line x1="511.7" y1="325" x2="511.7" y2="420" stroke="#d3e2ea" stroke-width="1.6" stroke-dasharray="9 3.5"/>
<ellipse cx="193" cy="855" rx="151" ry="24" fill="#e2e4e5" /><ellipse cx="200" cy="853.5" rx="121" ry="12.5" fill="#c8cacb" /><ellipse cx="512" cy="853.5" rx="162" ry="23.5" fill="#e2e4e5" /><ellipse cx="512.5" cy="852" rx="143" ry="14" fill="#c8cacb" /><ellipse cx="832" cy="855" rx="151" ry="24" fill="#e2e4e5" /><ellipse cx="823.5" cy="852.5" rx="120.5" ry="15.5" fill="#c8cacb" />
<line x1="822" y1="868" x2="822" y2="888" stroke="#c9d6de" stroke-width="1.4"/>
<rect x="205" y="798" width="9" height="42" fill="#f3b68f" /><rect x="224" y="798" width="9" height="42" fill="#f3b68f" /><rect x="201" y="746" width="16" height="54" fill="#8a5a3a" /><rect x="221" y="746" width="16" height="54" fill="#8a5a3a" /><rect x="199" y="839" width="19" height="10" fill="#3a7ab0" rx="4"/><rect x="220" y="839" width="19" height="10" fill="#3a7ab0" rx="4"/><rect x="214.9" y="642" width="11.2" height="13" fill="#eaa27c" /><path d="M191,752 L191,667 Q191,650 208,650 L232,650 Q249,650 249,667 L249,752 Q220,755 191,752 Z" fill="#e8b133" /><path d="M213.9,650 L220.5,656 L227.1,650 Z" fill="#eaa27c" /><ellipse cx="199" cy="743" rx="4.8" ry="6.8" fill="#f3b68f" /><ellipse cx="241" cy="743" rx="4.8" ry="6.8" fill="#f3b68f" /><path d="M204,625.6 Q204,609 220.5,609 L220.5,609 Q237,609 237,625.6 Z" fill="#3b2320" /><rect x="204" y="623.8" width="33" height="19.2" fill="#3b2320" rx="4"/><rect x="204" y="623.8" width="6.1" height="20.4" fill="#3b2320" rx="2.5"/><rect x="230.9" y="623.8" width="6.1" height="20.4" fill="#3b2320" rx="2.5"/><ellipse cx="205.5" cy="630.5" rx="2.5" ry="3.5" fill="#eaa27c" /><ellipse cx="235.5" cy="630.5" rx="2.5" ry="3.5" fill="#eaa27c" /><path d="M207.6,620.1 L207.6,634.2 Q209.6,646 220.5,646 Q231.4,646 233.4,634.2 L233.4,620.1 Z" fill="#f3b68f" /><path d="M204,628.2 Q204,609 220.5,609 Q237,609 237,628.2 L233.7,628.2 L233.4,622.3 Q232.1,618.6 220.5,619.7 Q208.9,618.6 207.6,622.3 L207.3,628.2 Z" fill="#3b2320" /><circle cx="214.7" cy="627.5" r="0.9" fill="#3a2a26" /><circle cx="226.3" cy="627.5" r="0.9" fill="#3a2a26" /><ellipse cx="220.5" cy="636" rx="7.1" ry="1.7" fill="#3a2420" /><rect x="281.1" y="640.5" width="10.9" height="12.5" fill="#eaa27c" /><path d="M256,752 L256,665 Q256,648 273,648 L301,648 Q318,648 318,665 L318,752 Q287,755 256,752 Z" fill="#e06a4a" /><path d="M280.1,648 L286.5,654 L292.9,648 Z" fill="#eaa27c" /><ellipse cx="264" cy="743" rx="4.8" ry="6.8" fill="#f3b68f" /><ellipse cx="310" cy="743" rx="4.8" ry="6.8" fill="#f3b68f" /><ellipse cx="286.5" cy="622" rx="16" ry="15" fill="#3b2320" /><ellipse cx="272" cy="628.8" rx="2.5" ry="3.5" fill="#eaa27c" /><ellipse cx="301" cy="628.8" rx="2.5" ry="3.5" fill="#eaa27c" /><path d="M272.4,618.2 L272.4,632.5 Q274.5,644.5 286.5,644.5 Q298.5,644.5 300.6,632.5 L300.6,618.2 Z" fill="#f3b68f" /><path d="M270.5,626.5 Q270.5,607 286.5,607 Q302.5,607 302.5,626.5 L300.9,626.5 L300.6,620.5 Q299.2,616.8 286.5,617.9 Q273.8,616.8 272.4,620.5 L272.1,626.5 Z" fill="#3b2320" /><circle cx="280.2" cy="625.8" r="0.9" fill="#3a2a26" /><circle cx="292.8" cy="625.8" r="0.9" fill="#3a2a26" /><ellipse cx="286.5" cy="635.5" rx="4.2" ry="0.8" fill="#c9806a" /><rect x="97.8" y="744" width="22.8" height="101" fill="#24506e" /><rect x="126.5" y="744" width="22.8" height="101" fill="#24506e" /><rect x="95.8" y="844" width="25.8" height="10" fill="#2a4560" rx="4"/><rect x="125.5" y="844" width="25.8" height="10" fill="#2a4560" rx="4"/><rect x="119.6" y="645" width="10.9" height="12" fill="#eaa27c" /><path d="M84,750 L84,669 Q84,652 101,652 L140,652 Q157,652 157,669 L157,750 Q120.5,753 84,750 Z" fill="#4b8bcb" /><rect x="93" y="666" width="1" height="74" fill="#2a5a90" opacity="0.35"/><rect x="147" y="666" width="1" height="74" fill="#2a5a90" opacity="0.35"/><path d="M118.6,652 L125,658 L131.4,652 Z" fill="#eaa27c" /><rect x="87" y="666" width="67" height="83" rx="7" fill="#5a98d6" opacity="0.75"/><path d="M95,677.7 Q107,672.8 119,676.5 Q131,672.8 143,677.7 L143,705 Q143,723.6 119,736 Q95,723.6 95,705 Z" fill="#5796d2" stroke="#f4f8fa" stroke-width="2.2"/><path d="M106.5,688.7 Q113.1,686.4 119.8,688.1 Q126.4,686.4 133,688.7 L133,701.3 Q133,709.9 119.8,715.6 Q106.5,709.9 106.5,701.3 Z" fill="#dce9ef" stroke="#eef4f6" stroke-width="0.8"/><ellipse cx="92" cy="741" rx="4.8" ry="6.8" fill="#f3b68f" /><ellipse cx="149" cy="741" rx="4.8" ry="6.8" fill="#f3b68f" /><ellipse cx="125" cy="626.6" rx="16" ry="14.9" fill="#3b2320" /><ellipse cx="110.5" cy="633.3" rx="2.5" ry="3.5" fill="#eaa27c" /><ellipse cx="139.5" cy="633.3" rx="2.5" ry="3.5" fill="#eaa27c" /><path d="M110.9,622.9 L110.9,637.1 Q113,649 125,649 Q137,649 139.1,637.1 L139.1,622.9 Z" fill="#f3b68f" /><path d="M109,631.1 Q109,611.7 125,611.7 Q141,611.7 141,631.1 L139.4,631.1 L139.1,625.1 Q137.7,621.4 125,622.5 Q112.3,621.4 110.9,625.1 L110.6,631.1 Z" fill="#3b2320" /><circle cx="118.7" cy="630.4" r="0.9" fill="#3a2a26" /><circle cx="131.3" cy="630.4" r="0.9" fill="#3a2a26" /><path d="M112.1,632.2 L112.1,637.1 Q114,647.5 125,647.5 Q136,647.5 137.9,637.1 L137.9,632.2" fill="none" stroke="#3a2420" stroke-width="3.5" stroke-linejoin="round"/><path d="M116.3,642.3 Q118.7,637.8 125,638.6 Q131.3,637.8 133.7,642.3 Q129.2,640.4 125,640.8 Q120.8,640.4 116.3,642.3 Z" fill="#3a2420" /><ellipse cx="125" cy="646.5" rx="7" ry="2.6" fill="#3a2420" /><ellipse cx="125" cy="643" rx="4.2" ry="1.3" fill="#e8a080" /><rect x="156.5" y="809.7" width="17.5" height="41.3" fill="#f3b68f" /><rect x="182" y="809.7" width="17.5" height="41.3" fill="#f3b68f" /><rect x="152.5" y="756.7" width="24.5" height="55" fill="#2d6a90" /><rect x="179" y="756.7" width="24.5" height="55" fill="#2d6a90" /><rect x="150.5" y="850" width="27.5" height="10" fill="#2f8f9a" rx="4"/><rect x="178" y="850" width="27.5" height="10" fill="#2f8f9a" rx="4"/><rect x="152.5" y="850" width="23.5" height="6" fill="#f2f5f5" rx="3"/><rect x="180" y="850" width="23.5" height="6" fill="#f2f5f5" rx="3"/><rect x="172.9" y="663" width="11.2" height="12" fill="#eaa27c" /><path d="M145.6,762.7 L145.6,687 Q145.6,670 162.6,670 L192,670 Q209,670 209,687 L209,762.7 Q177.3,765.7 145.6,762.7 Z" fill="#96c6dc" /><path d="M171.9,670 L178.5,676 L185.1,670 Z" fill="#eaa27c" /><path d="M164,692.7 Q170.5,690.4 177,692.2 Q183.5,690.4 190,692.7 L190,705.5 Q190,714.2 177,720 Q164,714.2 164,705.5 Z" fill="#dfe6e9" stroke="#f7f9fa" stroke-width="1.4"/><ellipse cx="153.6" cy="753.7" rx="4.8" ry="6.8" fill="#f3b68f" /><ellipse cx="201" cy="753.7" rx="4.8" ry="6.8" fill="#f3b68f" /><path d="M162,646.1 Q162,629 178.5,629 L178.5,629 Q195,629 195,646.1 Z" fill="#3b2320" /><rect x="162" y="644.2" width="33" height="19.8" fill="#3b2320" rx="4"/><rect x="162" y="644.2" width="6.1" height="20.9" fill="#3b2320" rx="2.5"/><rect x="188.9" y="644.2" width="6.1" height="20.9" fill="#3b2320" rx="2.5"/><ellipse cx="163.5" cy="651" rx="2.5" ry="3.5" fill="#eaa27c" /><ellipse cx="193.5" cy="651" rx="2.5" ry="3.5" fill="#eaa27c" /><path d="M165.6,640.4 L165.6,654.8 Q167.6,667 178.5,667 Q189.4,667 191.4,654.8 L191.4,640.4 Z" fill="#f3b68f" /><path d="M162,648.8 Q162,629 178.5,629 Q195,629 195,648.8 L191.7,648.8 L191.4,642.7 Q190.1,638.9 178.5,640 Q166.9,638.9 165.6,642.7 L165.3,648.8 Z" fill="#3b2320" /><circle cx="172.7" cy="648" r="0.9" fill="#3a2a26" /><circle cx="184.3" cy="648" r="0.9" fill="#3a2a26" /><ellipse cx="178.5" cy="657.9" rx="3.9" ry="0.8" fill="#c9806a" /><rect x="272" y="807.6" width="14.5" height="41.4" fill="#f3b68f" /><rect x="295.5" y="807.6" width="14.5" height="41.4" fill="#f3b68f" /><rect x="268" y="756.5" width="21.5" height="53.1" fill="#8a5030" /><rect x="292.5" y="756.5" width="21.5" height="53.1" fill="#8a5030" /><rect x="266" y="848" width="24.5" height="10" fill="#c83228" rx="4"/><rect x="291.5" y="848" width="24.5" height="10" fill="#c83228" rx="4"/><rect x="285.1" y="680" width="10.4" height="9" fill="#eaa27c" /><path d="M269.5,762.5 L269.5,701 Q269.5,684 286.5,684 L303.5,684 Q320.5,684 320.5,701 L320.5,762.5 Q295,765.5 269.5,762.5 Z" fill="#e4643c" /><path d="M284.2,684 L290.3,690 L296.4,684 Z" fill="#eaa27c" /><path d="M277.5,701.5 Q283.1,699.5 288.8,701 Q294.4,699.5 300,701.5 L300,712.5 Q300,720 288.8,725 Q277.5,720 277.5,712.5 Z" fill="#dfe6e9" stroke="#f7f9fa" stroke-width="1.4"/><ellipse cx="277.5" cy="753.5" rx="4.8" ry="6.8" fill="#f3b68f" /><ellipse cx="312.5" cy="753.5" rx="4.8" ry="6.8" fill="#f3b68f" /><path d="M275,663.6 Q275,647 290.3,647 L290.3,647 Q305.6,647 305.6,663.6 Z" fill="#3b2320" /><rect x="275" y="661.8" width="30.6" height="19.2" fill="#3b2320" rx="4"/><rect x="275" y="661.8" width="5.9" height="30.3" fill="#3b2320" rx="2.5"/><rect x="299.7" y="661.8" width="5.9" height="30.3" fill="#3b2320" rx="2.5"/><ellipse cx="276.5" cy="668.5" rx="2.5" ry="3.5" fill="#eaa27c" /><ellipse cx="304.1" cy="668.5" rx="2.5" ry="3.5" fill="#eaa27c" /><path d="M278.4,658.1 L278.4,672.2 Q280.2,684 290.3,684 Q300.4,684 302.2,672.2 L302.2,658.1 Z" fill="#f3b68f" /><path d="M275,666.2 Q275,647 290.3,647 Q305.6,647 305.6,666.2 L302.5,666.2 L302.2,660.3 Q301,656.6 290.3,657.7 Q279.6,656.6 278.4,660.3 L278.1,666.2 Z" fill="#3b2320" /><circle cx="284.9" cy="665.5" r="0.9" fill="#3a2a26" /><circle cx="295.7" cy="665.5" r="0.9" fill="#3a2a26" /><ellipse cx="290.3" cy="675.1" rx="3.6" ry="0.7" fill="#c9806a" /><rect x="218.8" y="755" width="21.8" height="98" fill="#24506e" /><rect x="245.5" y="755" width="21.8" height="98" fill="#24506e" /><rect x="216.8" y="852" width="24.8" height="10" fill="#1e4a6a" rx="4"/><rect x="244.5" y="852" width="24.8" height="10" fill="#1e4a6a" rx="4"/><rect x="239.7" y="668.6" width="10" height="12.9" fill="#eaa27c" /><path d="M212,761 L212,693.5 Q212,676.5 229,676.5 L260,676.5 Q277,676.5 277,693.5 L277,761 Q244.5,764 212,761 Z" fill="#f6b838" /><path d="M238.8,676.5 L244.8,682.5 L250.7,676.5 Z" fill="#eaa27c" /><path d="M218,697.2 Q230.1,692.9 242.2,696.1 Q254.4,692.9 266.5,697.2 L266.5,720.5 Q266.5,736.4 242.2,747 Q218,736.4 218,720.5 Z" fill="#f7bb40" stroke="#f4f8fa" stroke-width="2.2"/><path d="M230,697.7 Q236.2,695.4 242.5,697.2 Q248.8,695.4 255,697.7 L255,710.5 Q255,719.2 242.5,725 Q230,719.2 230,710.5 Z" fill="#f0a860" stroke="#eef4f6" stroke-width="0.8"/><ellipse cx="220" cy="752" rx="4.8" ry="6.8" fill="#f3b68f" /><ellipse cx="269" cy="752" rx="4.8" ry="6.8" fill="#f3b68f" /><ellipse cx="244.8" cy="650.6" rx="14.8" ry="14.6" fill="#3b2320" /><ellipse cx="231.5" cy="657.2" rx="2.5" ry="3.5" fill="#eaa27c" /><ellipse cx="258" cy="657.2" rx="2.5" ry="3.5" fill="#eaa27c" /><path d="M231.8,647 L231.8,660.9 Q233.7,672.6 244.8,672.6 Q255.8,672.6 257.7,660.9 L257.7,647 Z" fill="#f3b68f" /><path d="M230,655 Q230,636 244.8,636 Q259.5,636 259.5,655 L258,655 L257.7,649.2 Q256.4,645.5 244.8,646.6 Q233.1,645.5 231.8,649.2 L231.5,655 Z" fill="#3b2320" /><circle cx="238.9" cy="654.3" r="0.9" fill="#3a2a26" /><circle cx="250.6" cy="654.3" r="0.9" fill="#3a2a26" /><path d="M233,656.1 L233,660.9 Q234.7,671.1 244.8,671.1 Q254.8,671.1 256.5,660.9 L256.5,656.1" fill="none" stroke="#3a2420" stroke-width="3.2" stroke-linejoin="round"/><path d="M236.7,666 Q238.9,661.6 244.8,662.4 Q250.6,661.6 252.8,666 Q248.6,664.2 244.8,664.5 Q240.9,664.2 236.7,666 Z" fill="#3a2420" /><ellipse cx="244.8" cy="670.1" rx="6.5" ry="2.6" fill="#3a2420" /><ellipse cx="244.8" cy="666.7" rx="3.9" ry="1.3" fill="#e8a080" /><rect x="463.7" y="638" width="10" height="13" fill="#eaa27c" /><path d="M438,752 L438,663 Q438,646 455,646 L485,646 Q502,646 502,663 L502,752 Q470,755 438,752 Z" fill="#e8982e" /><path d="M462.9,646 L468.8,652 L474.6,646 Z" fill="#eaa27c" /><ellipse cx="446" cy="743" rx="4.8" ry="6.8" fill="#f3b68f" /><ellipse cx="494" cy="743" rx="4.8" ry="6.8" fill="#f3b68f" /><ellipse cx="468.8" cy="620.4" rx="14.8" ry="14.4" fill="#3b2320" /><ellipse cx="455.5" cy="626.9" rx="2.5" ry="3.5" fill="#eaa27c" /><ellipse cx="482" cy="626.9" rx="2.5" ry="3.5" fill="#eaa27c" /><path d="M455.8,616.8 L455.8,630.5 Q457.7,642 468.8,642 Q479.8,642 481.7,630.5 L481.7,616.8 Z" fill="#f3b68f" /><path d="M454,624.7 Q454,606 468.8,606 Q483.5,606 483.5,624.7 L482,624.7 L481.7,619 Q480.4,615.4 468.8,616.4 Q457.1,615.4 455.8,619 L455.5,624.7 Z" fill="#3b2320" /><circle cx="462.9" cy="624" r="0.9" fill="#3a2a26" /><circle cx="474.6" cy="624" r="0.9" fill="#3a2a26" /><ellipse cx="468.8" cy="632.3" rx="7.1" ry="1.6" fill="#3a2420" /><rect x="532" y="798" width="11" height="35" fill="#f3b68f" /><rect x="553" y="798" width="11" height="35" fill="#f3b68f" /><rect x="528" y="754" width="18" height="46" fill="#b03030" /><rect x="550" y="754" width="18" height="46" fill="#b03030" /><rect x="526" y="832" width="21" height="10" fill="#2a5aa0" rx="4"/><rect x="549" y="832" width="21" height="10" fill="#2a5aa0" rx="4"/><rect x="550.6" y="642.6" width="10.9" height="12.4" fill="#eaa27c" /><path d="M525,760 L525,667 Q525,650 542,650 L564,650 Q581,650 581,667 L581,760 Q553,763 525,760 Z" fill="#cc4438" /><path d="M549.6,650 L556,656 L562.4,650 Z" fill="#eaa27c" /><ellipse cx="533" cy="751" rx="4.8" ry="6.8" fill="#f3b68f" /><ellipse cx="573" cy="751" rx="4.8" ry="6.8" fill="#f3b68f" /><path d="M540,626.3 Q540,609.7 556,609.7 L556,609.7 Q572,609.7 572,626.3 Z" fill="#3b2320" /><rect x="540" y="624.5" width="32" height="19.1" fill="#3b2320" rx="4"/><rect x="540" y="624.5" width="6" height="20.3" fill="#3b2320" rx="2.5"/><rect x="566" y="624.5" width="6" height="20.3" fill="#3b2320" rx="2.5"/><ellipse cx="541.5" cy="631.1" rx="2.5" ry="3.5" fill="#eaa27c" /><ellipse cx="570.5" cy="631.1" rx="2.5" ry="3.5" fill="#eaa27c" /><path d="M543.5,620.8 L543.5,634.8 Q545.4,646.6 556,646.6 Q566.6,646.6 568.5,634.8 L568.5,620.8 Z" fill="#f3b68f" /><path d="M540,628.9 Q540,609.7 556,609.7 Q572,609.7 572,628.9 L568.8,628.9 L568.5,623 Q567.2,619.3 556,620.4 Q544.8,619.3 543.5,623 L543.2,628.9 Z" fill="#3b2320" /><circle cx="550.4" cy="628.2" r="0.9" fill="#3a2a26" /><circle cx="561.6" cy="628.2" r="0.9" fill="#3a2a26" /><ellipse cx="556" cy="637.7" rx="3.7" ry="0.7" fill="#c9806a" /><rect x="613.5" y="641" width="10.8" height="13" fill="#eaa27c" /><path d="M590,752 L590,666 Q590,649 607,649 L632,649 Q649,649 649,666 L649,752 Q619.5,755 590,752 Z" fill="#3a5c80" /><path d="M612.5,649 L618.9,655 L625.2,649 Z" fill="#eaa27c" /><ellipse cx="598" cy="743" rx="4.8" ry="6.8" fill="#f3b68f" /><ellipse cx="641" cy="743" rx="4.8" ry="6.8" fill="#f3b68f" /><ellipse cx="618.9" cy="622.8" rx="15.8" ry="14.8" fill="#3b2320" /><ellipse cx="604.5" cy="629.5" rx="2.5" ry="3.5" fill="#eaa27c" /><ellipse cx="633.2" cy="629.5" rx="2.5" ry="3.5" fill="#eaa27c" /><path d="M604.9,619.1 L604.9,633.2 Q607,645 618.9,645 Q630.7,645 632.8,633.2 L632.8,619.1 Z" fill="#f3b68f" /><path d="M603,627.2 Q603,608 618.9,608 Q634.7,608 634.7,627.2 L633.1,627.2 L632.8,621.3 Q631.4,617.6 618.9,618.7 Q606.3,617.6 604.9,621.3 L604.6,627.2 Z" fill="#3b2320" /><circle cx="612.6" cy="626.5" r="0.9" fill="#3a2a26" /><circle cx="625.1" cy="626.5" r="0.9" fill="#3a2a26" /><ellipse cx="618.9" cy="636.1" rx="4.2" ry="0.7" fill="#c9806a" /><rect x="382.5" y="742" width="22" height="103" fill="#1e4d6a" /><rect x="409.5" y="742" width="22" height="103" fill="#1e4d6a" /><rect x="380.5" y="844" width="25" height="10" fill="#5a3a2a" rx="4"/><rect x="408.5" y="844" width="25" height="10" fill="#5a3a2a" rx="4"/><rect x="403.3" y="645" width="10" height="12" fill="#eaa27c" /><path d="M368,748 L368,669 Q368,652 385,652 L420,652 Q437,652 437,669 L437,748 Q402.5,751 368,748 Z" fill="#44a29c" /><path d="M402.4,652 L408.3,658 L414.2,652 Z" fill="#eaa27c" /><rect x="371" y="665" width="63" height="82" rx="7" fill="#58aeb8" opacity="0.75"/><path d="M379,676.7 Q390.8,671.8 402.5,675.5 Q414.2,671.8 426,676.7 L426,704 Q426,722.6 402.5,735 Q379,722.6 379,704 Z" fill="#5ab0bd" stroke="#f4f8fa" stroke-width="2.2"/><path d="M390,689.2 Q396.5,686.9 403,688.6 Q409.5,686.9 416,689.2 L416,701.8 Q416,710.3 403,716 Q390,710.3 390,701.8 Z" fill="#dce9ef" stroke="#eef4f6" stroke-width="0.8"/><ellipse cx="376" cy="739" rx="4.8" ry="6.8" fill="#f3b68f" /><ellipse cx="429" cy="739" rx="4.8" ry="6.8" fill="#f3b68f" /><ellipse cx="408.3" cy="627.1" rx="14.7" ry="14.6" fill="#3b2320" /><ellipse cx="423" cy="616.9" rx="5" ry="3" fill="#3b2320" /><ellipse cx="395.1" cy="633.7" rx="2.5" ry="3.5" fill="#eaa27c" /><ellipse cx="421.5" cy="633.7" rx="2.5" ry="3.5" fill="#eaa27c" /><path d="M395.4,623.5 L395.4,637.3 Q397.3,649 408.3,649 Q419.3,649 421.2,637.3 L421.2,623.5 Z" fill="#f3b68f" /><path d="M393.6,631.5 Q393.6,612.5 408.3,612.5 Q423,612.5 423,631.5 L421.5,631.5 L421.2,625.6 Q419.9,622 408.3,623.1 Q396.7,622 395.4,625.6 L395.1,631.5 Z" fill="#3b2320" /><circle cx="402.5" cy="630.8" r="0.9" fill="#3a2a26" /><circle cx="414.1" cy="630.8" r="0.9" fill="#3a2a26" /><path d="M396.6,632.6 L396.6,637.3 Q398.3,647.5 408.3,647.5 Q418.3,647.5 420,637.3 L420,632.6" fill="none" stroke="#3a2420" stroke-width="3.2" stroke-linejoin="round"/><path d="M400.3,642.4 Q402.5,638 408.3,638.8 Q414.1,638 416.3,642.4 Q412.2,640.6 408.3,641 Q404.4,640.6 400.3,642.4 Z" fill="#3a2420" /><ellipse cx="408.3" cy="646.5" rx="6.5" ry="2.6" fill="#3a2420" /><ellipse cx="408.3" cy="643.2" rx="3.9" ry="1.3" fill="#e8a080" /><rect x="438" y="747" width="21.5" height="99" fill="#4c443e" /><rect x="465.5" y="747" width="21.5" height="99" fill="#4c443e" /><rect x="436" y="845" width="24.5" height="10" fill="#5a3a2a" rx="4"/><rect x="464.5" y="845" width="24.5" height="10" fill="#3a3530" rx="4"/><rect x="455.2" y="666" width="9.5" height="10" fill="#eaa27c" /><path d="M429,753 L429,688 Q429,671 446,671 L468,671 Q485,671 485,688 L485,753 Q457,756 429,753 Z" fill="#f08a2c" /><path d="M454.4,671 L460,677 L465.6,671 Z" fill="#eaa27c" /><path d="M448,692.7 Q454,690.4 460,692.1 Q466,690.4 472,692.7 L472,705 Q472,713.4 460,719 Q448,713.4 448,705 Z" fill="#dfe6e9" stroke="#f7f9fa" stroke-width="1.4"/><ellipse cx="437" cy="744" rx="4.8" ry="6.8" fill="#f3b68f" /><ellipse cx="477" cy="744" rx="4.8" ry="6.8" fill="#f3b68f" /><ellipse cx="460" cy="650.8" rx="14" ry="12.8" fill="#3b2320" /><ellipse cx="447.5" cy="656.6" rx="2.5" ry="3.5" fill="#eaa27c" /><ellipse cx="472.5" cy="656.6" rx="2.5" ry="3.5" fill="#eaa27c" /><path d="M447.7,647.6 L447.7,659.8 Q449.5,670 460,670 Q470.5,670 472.3,659.8 L472.3,647.6 Z" fill="#f3b68f" /><path d="M446,654.6 Q446,638 460,638 Q474,638 474,654.6 L472.6,654.6 L472.3,649.5 Q471.1,646.3 460,647.3 Q448.9,646.3 447.7,649.5 L447.4,654.6 Z" fill="#3b2320" /><circle cx="454.5" cy="654" r="0.9" fill="#3a2a26" /><circle cx="465.5" cy="654" r="0.9" fill="#3a2a26" /><path d="M448.9,655.6 L448.9,659.8 Q450.5,668.5 460,668.5 Q469.5,668.5 471.1,659.8 L471.1,655.6" fill="none" stroke="#3a2420" stroke-width="3.1" stroke-linejoin="round"/><path d="M452.4,664.2 Q454.5,660.4 460,661 Q465.5,660.4 467.6,664.2 Q463.7,662.6 460,663 Q456.3,662.6 452.4,664.2 Z" fill="#3a2420" /><ellipse cx="460" cy="667.5" rx="6.2" ry="2.2" fill="#3a2420" /><ellipse cx="460" cy="664.9" rx="3.7" ry="1.1" fill="#e8a080" /><rect x="519.8" y="806.7" width="16.5" height="41.3" fill="#f3b68f" /><rect x="491.8" y="757" width="23.5" height="91" fill="#8a5a36" /><rect x="516.8" y="757" width="23.5" height="51.7" fill="#8a5a36" /><rect x="489.8" y="847" width="26.5" height="10" fill="#8a7a40" rx="4"/><rect x="515.8" y="847" width="26.5" height="10" fill="#8a7a40" rx="4"/><rect x="491.8" y="847" width="22.5" height="6" fill="#efe4c0" rx="3"/><rect x="517.8" y="847" width="22.5" height="6" fill="#efe4c0" rx="3"/><rect x="510.6" y="666" width="10.9" height="11" fill="#eaa27c" /><path d="M483.5,763 L483.5,689 Q483.5,672 500.5,672 L529,672 Q546,672 546,689 L546,763 Q514.8,766 483.5,763 Z" fill="#f08428" /><path d="M504.8,672 Q508,678 516,676 Q524,678 527.2,672 Z" fill="#f6ece6" /><path d="M503,694.7 Q509.1,692.4 515.2,694.1 Q521.4,692.4 527.5,694.7 L527.5,707 Q527.5,715.4 515.2,721 Q503,715.4 503,707 Z" fill="#dfe6e9" stroke="#f7f9fa" stroke-width="1.4"/><ellipse cx="491.5" cy="754" rx="4.8" ry="6.8" fill="#f3b68f" /><ellipse cx="538" cy="754" rx="4.8" ry="6.8" fill="#f3b68f" /><path d="M500,650.2 Q500,634 516,634 L516,634 Q532,634 532,650.2 Z" fill="#3b2320" /><rect x="500" y="648.4" width="32" height="18.6" fill="#3b2320" rx="4"/><rect x="500" y="648.4" width="6" height="19.8" fill="#3b2320" rx="2.5"/><rect x="526" y="648.4" width="6" height="19.8" fill="#3b2320" rx="2.5"/><ellipse cx="501.5" cy="654.9" rx="2.5" ry="3.5" fill="#eaa27c" /><ellipse cx="530.5" cy="654.9" rx="2.5" ry="3.5" fill="#eaa27c" /><path d="M503.5,644.8 L503.5,658.5 Q505.4,670 516,670 Q526.6,670 528.5,658.5 L528.5,644.8 Z" fill="#f3b68f" /><path d="M500,652.7 Q500,634 516,634 Q532,634 532,652.7 L528.8,652.7 L528.5,647 Q527.2,643.4 516,644.4 Q504.8,643.4 503.5,647 L503.2,652.7 Z" fill="#3b2320" /><circle cx="510.4" cy="652" r="0.9" fill="#3a2a26" /><circle cx="521.6" cy="652" r="0.9" fill="#3a2a26" /><ellipse cx="516" cy="661.4" rx="3.7" ry="0.7" fill="#c9806a" /><rect x="550" y="757" width="21.5" height="90" fill="#b02a2c" /><rect x="575.5" y="757" width="21.5" height="90" fill="#b02a2c" /><rect x="548" y="846" width="24.5" height="10" fill="#d84030" rx="4"/><rect x="574.5" y="846" width="24.5" height="10" fill="#d84030" rx="4"/><rect x="568.6" y="673" width="10.9" height="13" fill="#eaa27c" /><path d="M546,763 L546,698 Q546,681 563,681 L582.5,681 Q599.5,681 599.5,698 L599.5,763 Q572.8,766 546,763 Z" fill="#f5c452" /><path d="M567.6,681 L574,687 L580.4,681 Z" fill="#eaa27c" /><path d="M561,701.4 Q566.8,699.5 572.5,701 Q578.2,699.5 584,701.4 L584,712 Q584,719.2 572.5,724 Q561,719.2 561,712 Z" fill="#dfe6e9" stroke="#f7f9fa" stroke-width="1.4"/><ellipse cx="554" cy="754" rx="4.8" ry="6.8" fill="#f3b68f" /><ellipse cx="591.5" cy="754" rx="4.8" ry="6.8" fill="#f3b68f" /><path d="M558,657.8 Q558,642 574,642 L574,642 Q590,642 590,657.8 Z" fill="#3b2320" /><rect x="558" y="656" width="32" height="18" fill="#3b2320" rx="4"/><rect x="558" y="656" width="6" height="32.2" fill="#3b2320" rx="2.5"/><rect x="584" y="656" width="6" height="32.2" fill="#3b2320" rx="2.5"/><ellipse cx="559.5" cy="662.3" rx="2.5" ry="3.5" fill="#eaa27c" /><ellipse cx="588.5" cy="662.3" rx="2.5" ry="3.5" fill="#eaa27c" /><path d="M561.5,652.5 L561.5,665.8 Q563.4,677 574,677 Q584.6,677 586.5,665.8 L586.5,652.5 Z" fill="#f3b68f" /><path d="M558,660.2 Q558,642 574,642 Q590,642 590,660.2 L586.8,660.2 L586.5,654.6 Q585.2,651.1 574,652.1 Q562.8,651.1 561.5,654.6 L561.2,660.2 Z" fill="#3b2320" /><circle cx="568.4" cy="659.5" r="0.9" fill="#3a2a26" /><circle cx="579.6" cy="659.5" r="0.9" fill="#3a2a26" /><ellipse cx="574" cy="668.6" rx="3.7" ry="0.7" fill="#c9806a" /><rect x="598.5" y="757" width="22" height="89" fill="#3a7a30" /><rect x="625.5" y="757" width="22" height="89" fill="#3a7a30" /><rect x="596.5" y="845" width="25" height="10" fill="#2a3040" rx="4"/><rect x="624.5" y="845" width="25" height="10" fill="#4a2a22" rx="4"/><rect x="618.9" y="676" width="10.2" height="11.6" fill="#eaa27c" /><path d="M592.5,763 L592.5,699.6 Q592.5,682.6 609.5,682.6 L637,682.6 Q654,682.6 654,699.6 L654,763 Q623.2,766 592.5,763 Z" fill="#5aa848" /><path d="M618,682.6 L624,688.6 L630,682.6 Z" fill="#eaa27c" /><path d="M610,701.5 Q616.2,699.5 622.4,701 Q628.5,699.5 634.7,701.5 L634.7,712.9 Q634.7,720.6 622.4,725.7 Q610,720.6 610,712.9 Z" fill="#dfe6e9" stroke="#f7f9fa" stroke-width="1.4"/><ellipse cx="600.5" cy="754" rx="4.8" ry="6.8" fill="#f3b68f" /><ellipse cx="646" cy="754" rx="4.8" ry="6.8" fill="#f3b68f" /><path d="M609,661.6 Q609,646.6 624,646.6 L624,646.6 Q639,646.6 639,661.6 Z" fill="#3b2320" /><rect x="609" y="660" width="30" height="17" fill="#3b2320" rx="4"/><rect x="609" y="660" width="5.8" height="31.1" fill="#3b2320" rx="2.5"/><rect x="633.2" y="660" width="5.8" height="31.1" fill="#3b2320" rx="2.5"/><ellipse cx="610.5" cy="666" rx="2.5" ry="3.5" fill="#eaa27c" /><ellipse cx="637.5" cy="666" rx="2.5" ry="3.5" fill="#eaa27c" /><path d="M612.3,656.6 L612.3,669.3 Q614.1,680 624,680 Q633.9,680 635.7,669.3 L635.7,656.6 Z" fill="#f3b68f" /><path d="M609,664 Q609,646.6 624,646.6 Q639,646.6 639,664 L636,664 L635.7,658.6 Q634.5,655.3 624,656.3 Q613.5,655.3 612.3,658.6 L612,664 Z" fill="#3b2320" /><circle cx="618.7" cy="663.3" r="0.9" fill="#3a2a26" /><circle cx="629.3" cy="663.3" r="0.9" fill="#3a2a26" /><ellipse cx="624" cy="672" rx="3.5" ry="0.7" fill="#c9806a" /><rect x="811" y="798" width="9" height="45" fill="#e07050" /><rect x="830" y="798" width="9" height="45" fill="#e07050" /><rect x="807" y="754" width="16" height="46" fill="#8a4a30" /><rect x="827" y="754" width="16" height="46" fill="#8a4a30" /><rect x="805" y="842" width="19" height="10" fill="#2a5aa0" rx="4"/><rect x="826" y="842" width="19" height="10" fill="#2a5aa0" rx="4"/><rect x="830.2" y="642.5" width="10.5" height="11.5" fill="#eaa27c" /><path d="M804,760 L804,666 Q804,649 821,649 L851,649 Q868,649 868,666 L868,760 Q836,763 804,760 Z" fill="#b0683a" /><path d="M829.3,649 L835.5,655 L841.7,649 Z" fill="#eaa27c" /><ellipse cx="812" cy="751" rx="4.8" ry="6.8" fill="#f3b68f" /><ellipse cx="860" cy="751" rx="4.8" ry="6.8" fill="#f3b68f" /><ellipse cx="835.5" cy="624" rx="15.5" ry="15" fill="#3b2320" /><ellipse cx="821.5" cy="630.8" rx="2.5" ry="3.5" fill="#eaa27c" /><ellipse cx="849.5" cy="630.8" rx="2.5" ry="3.5" fill="#eaa27c" /><path d="M821.9,620.2 L821.9,634.5 Q823.9,646.5 835.5,646.5 Q847.1,646.5 849.1,634.5 L849.1,620.2 Z" fill="#f3b68f" /><path d="M820,628.5 Q820,609 835.5,609 Q851,609 851,628.5 L849.4,628.5 L849.1,622.5 Q847.8,618.8 835.5,619.9 Q823.2,618.8 821.9,622.5 L821.6,628.5 Z" fill="#3b2320" /><circle cx="829.4" cy="627.8" r="0.9" fill="#3a2a26" /><circle cx="841.6" cy="627.8" r="0.9" fill="#3a2a26" /><ellipse cx="835.5" cy="637.5" rx="4.1" ry="0.8" fill="#c9806a" /><rect x="870" y="759" width="13" height="83" fill="#b03030" /><rect x="887" y="759" width="13" height="83" fill="#b03030" /><rect x="868" y="841" width="16" height="10" fill="#2a4a9a" rx="4"/><rect x="886" y="841" width="16" height="10" fill="#2a4a9a" rx="4"/><rect x="892.9" y="643" width="10.2" height="12" fill="#eaa27c" /><path d="M869,765 L869,667 Q869,650 886,650 L913,650 Q930,650 930,667 L930,765 Q899.5,768 869,765 Z" fill="#c84a38" /><path d="M892,650 L898,656 L904,650 Z" fill="#eaa27c" /><ellipse cx="877" cy="756" rx="4.8" ry="6.8" fill="#f3b68f" /><ellipse cx="922" cy="756" rx="4.8" ry="6.8" fill="#f3b68f" /><ellipse cx="898" cy="625.4" rx="15" ry="14.4" fill="#3b2320" /><ellipse cx="884.5" cy="631.9" rx="2.5" ry="3.5" fill="#eaa27c" /><ellipse cx="911.5" cy="631.9" rx="2.5" ry="3.5" fill="#eaa27c" /><path d="M884.8,621.8 L884.8,635.5 Q886.8,647 898,647 Q909.2,647 911.2,635.5 L911.2,621.8 Z" fill="#f3b68f" /><path d="M883,629.7 Q883,611 898,611 Q913,611 913,629.7 L911.5,629.7 L911.2,624 Q909.9,620.4 898,621.4 Q886.1,620.4 884.8,624 L884.5,629.7 Z" fill="#3b2320" /><circle cx="892.1" cy="629" r="0.9" fill="#3a2a26" /><circle cx="903.9" cy="629" r="0.9" fill="#3a2a26" /><ellipse cx="898" cy="638.4" rx="4" ry="0.7" fill="#c9806a" /><rect x="717.5" y="743" width="22" height="102" fill="#1e4a68" /><rect x="745.5" y="743" width="22" height="102" fill="#1e4a68" /><rect x="715.5" y="844" width="25" height="10" fill="#3a302a" rx="4"/><rect x="744.5" y="844" width="25" height="10" fill="#3a302a" rx="4"/><rect x="739.6" y="645" width="10.9" height="12" fill="#eaa27c" /><path d="M704,749 L704,669 Q704,652 721,652 L761,652 Q778,652 778,669 L778,749 Q741,752 704,749 Z" fill="#3a9a84" /><path d="M738.6,652 L745,658 L751.4,652 Z" fill="#eaa27c" /><rect x="707" y="666" width="68" height="82" rx="7" fill="#4aa6b0" opacity="0.75"/><path d="M715,677.7 Q726.5,672.8 738,676.4 Q749.5,672.8 761,677.7 L761,704.5 Q761,722.8 738,735 Q715,722.8 715,704.5 Z" fill="#4aa8b8" stroke="#f4f8fa" stroke-width="2.2"/><path d="M726,689.2 Q732.5,686.9 739,688.6 Q745.5,686.9 752,689.2 L752,701.5 Q752,710 739,715.6 Q726,710 726,701.5 Z" fill="#dce9ef" stroke="#eef4f6" stroke-width="0.8"/><ellipse cx="712" cy="740" rx="4.8" ry="6.8" fill="#f3b68f" /><ellipse cx="770" cy="740" rx="4.8" ry="6.8" fill="#f3b68f" /><ellipse cx="745" cy="626.6" rx="16" ry="14.9" fill="#3b2320" /><ellipse cx="730.5" cy="633.3" rx="2.5" ry="3.5" fill="#eaa27c" /><ellipse cx="759.5" cy="633.3" rx="2.5" ry="3.5" fill="#eaa27c" /><path d="M730.9,622.9 L730.9,637.1 Q733,649 745,649 Q757,649 759.1,637.1 L759.1,622.9 Z" fill="#f3b68f" /><path d="M729,631.1 Q729,611.7 745,611.7 Q761,611.7 761,631.1 L759.4,631.1 L759.1,625.1 Q757.7,621.4 745,622.5 Q732.3,621.4 730.9,625.1 L730.6,631.1 Z" fill="#3b2320" /><circle cx="738.7" cy="630.4" r="0.9" fill="#3a2a26" /><circle cx="751.3" cy="630.4" r="0.9" fill="#3a2a26" /><path d="M732.1,632.2 L732.1,637.1 Q734,647.5 745,647.5 Q756,647.5 757.9,637.1 L757.9,632.2" fill="none" stroke="#3a2420" stroke-width="3.5" stroke-linejoin="round"/><path d="M736.3,642.3 Q738.7,637.8 745,638.6 Q751.3,637.8 753.7,642.3 Q749.2,640.4 745,640.8 Q740.8,640.4 736.3,642.3 Z" fill="#3a2420" /><ellipse cx="745" cy="646.5" rx="7" ry="2.6" fill="#3a2420" /><ellipse cx="745" cy="643" rx="4.2" ry="1.3" fill="#e8a080" /><rect x="773" y="807" width="16.2" height="42" fill="#f3b68f" /><rect x="797.2" y="807" width="16.2" height="42" fill="#f3b68f" /><rect x="769" y="753" width="23.2" height="56" fill="#8a5636" /><rect x="794.2" y="753" width="23.2" height="56" fill="#8a5636" /><rect x="767" y="848" width="26.2" height="10" fill="#6aa040" rx="4"/><rect x="793.2" y="848" width="26.2" height="10" fill="#6aa040" rx="4"/><rect x="769" y="848" width="22.2" height="6" fill="#f0ead0" rx="3"/><rect x="795.2" y="848" width="22.2" height="6" fill="#f0ead0" rx="3"/><rect x="788.1" y="661.6" width="10.9" height="10.4" fill="#eaa27c" /><path d="M760,759 L760,684 Q760,667 777,667 L806,667 Q823,667 823,684 L823,759 Q791.5,762 760,759 Z" fill="#7ab24a" /><path d="M782.3,667 Q785.5,673 793.5,671 Q801.5,673 804.7,667 Z" fill="#f6ece6" /><path d="M780,689.7 Q786,687.4 792,689.2 Q798,687.4 804,689.7 L804,702.5 Q804,711.2 792,717 Q780,711.2 780,702.5 Z" fill="#dfe6e9" stroke="#f7f9fa" stroke-width="1.4"/><ellipse cx="768" cy="750" rx="4.8" ry="6.8" fill="#f3b68f" /><ellipse cx="815" cy="750" rx="4.8" ry="6.8" fill="#f3b68f" /><ellipse cx="793.5" cy="643" rx="16" ry="15" fill="#3b2320" /><ellipse cx="779" cy="649.8" rx="2.5" ry="3.5" fill="#eaa27c" /><ellipse cx="808" cy="649.8" rx="2.5" ry="3.5" fill="#eaa27c" /><path d="M779.4,639.3 L779.4,653.6 Q781.5,665.6 793.5,665.6 Q805.5,665.6 807.6,653.6 L807.6,639.3 Z" fill="#f3b68f" /><path d="M777.5,647.6 Q777.5,628 793.5,628 Q809.5,628 809.5,647.6 L807.9,647.6 L807.6,641.5 Q806.2,637.8 793.5,638.9 Q780.8,637.8 779.4,641.5 L779.1,647.6 Z" fill="#3b2320" /><circle cx="787.2" cy="646.8" r="0.9" fill="#3a2a26" /><circle cx="799.8" cy="646.8" r="0.9" fill="#3a2a26" /><ellipse cx="793.5" cy="656.6" rx="4.2" ry="0.8" fill="#c9806a" /><rect x="828.4" y="756" width="21.3" height="94" fill="#1f5a6e" /><rect x="853.7" y="756" width="21.3" height="94" fill="#2a6a58" /><rect x="826.4" y="849" width="24.3" height="10" fill="#1a4a6a" rx="4"/><rect x="852.7" y="849" width="24.3" height="10" fill="#1a4a6a" rx="4"/><rect x="848.2" y="677" width="10.5" height="11" fill="#eaa27c" /><path d="M821,762 L821,700 Q821,683 838,683 L863,683 Q880,683 880,700 L880,762 Q850.5,765 821,762 Z" fill="#5ea84c" /><path d="M847.3,683 L853.5,689 L859.7,683 Z" fill="#eaa27c" /><path d="M838,701.6 Q844.2,699.5 850.5,701.1 Q856.8,699.5 863,701.6 L863,713.3 Q863,721.3 850.5,726.6 Q838,721.3 838,713.3 Z" fill="#dfe6e9" stroke="#f7f9fa" stroke-width="1.4"/><ellipse cx="829" cy="753" rx="4.8" ry="6.8" fill="#f3b68f" /><ellipse cx="872" cy="753" rx="4.8" ry="6.8" fill="#f3b68f" /><path d="M838,660.9 Q838,644.5 853.5,644.5 L853.5,644.5 Q869,644.5 869,660.9 Z" fill="#3b2320" /><rect x="838" y="659.1" width="31" height="18.9" fill="#3b2320" rx="4"/><rect x="838" y="659.1" width="5.9" height="31.8" fill="#3b2320" rx="2.5"/><rect x="863.1" y="659.1" width="5.9" height="31.8" fill="#3b2320" rx="2.5"/><ellipse cx="839.5" cy="665.7" rx="2.5" ry="3.5" fill="#eaa27c" /><ellipse cx="867.5" cy="665.7" rx="2.5" ry="3.5" fill="#eaa27c" /><path d="M841.4,655.5 L841.4,669.3 Q843.2,681 853.5,681 Q863.8,681 865.6,669.3 L865.6,655.5 Z" fill="#f3b68f" /><path d="M838,663.5 Q838,644.5 853.5,644.5 Q869,644.5 869,663.5 L865.9,663.5 L865.6,657.6 Q864.4,654 853.5,655.1 Q842.6,654 841.4,657.6 L841.1,663.5 Z" fill="#3b2320" /><circle cx="848.1" cy="662.8" r="0.9" fill="#3a2a26" /><circle cx="858.9" cy="662.8" r="0.9" fill="#3a2a26" /><ellipse cx="853.5" cy="672.2" rx="3.6" ry="0.7" fill="#c9806a" /><rect x="881.5" y="756" width="23" height="88" fill="#8a5434" /><rect x="908.5" y="756" width="23" height="88" fill="#8a5434" /><rect x="879.5" y="843" width="26" height="10" fill="#2a4a9a" rx="4"/><rect x="907.5" y="843" width="26" height="10" fill="#2a4a9a" rx="4"/><rect x="881.5" y="843" width="22" height="6" fill="#f0c8a8" rx="3"/><rect x="909.5" y="843" width="22" height="6" fill="#f0c8a8" rx="3"/><rect x="902.9" y="678" width="10.2" height="10.6" fill="#eaa27c" /><path d="M876.5,762 L876.5,700.6 Q876.5,683.6 893.5,683.6 L920,683.6 Q937,683.6 937,700.6 L937,762 Q906.8,765 876.5,762 Z" fill="#86c6d8" /><path d="M902,683.6 L908,689.6 L914,683.6 Z" fill="#eaa27c" /><path d="M894,701.6 Q900,699.5 906,701 Q912,699.5 918,701.6 L918,713 Q918,720.8 906,726 Q894,720.8 894,713 Z" fill="#dfe6e9" stroke="#f7f9fa" stroke-width="1.4"/><ellipse cx="884.5" cy="753" rx="4.8" ry="6.8" fill="#f3b68f" /><ellipse cx="929" cy="753" rx="4.8" ry="6.8" fill="#f3b68f" /><path d="M893,662.8 Q893,647 908,647 L908,647 Q923,647 923,662.8 Z" fill="#3b2320" /><rect x="893" y="661" width="30" height="18" fill="#3b2320" rx="4"/><rect x="893" y="661" width="5.8" height="31.5" fill="#3b2320" rx="2.5"/><rect x="917.2" y="661" width="5.8" height="31.5" fill="#3b2320" rx="2.5"/><ellipse cx="894.5" cy="667.3" rx="2.5" ry="3.5" fill="#eaa27c" /><ellipse cx="921.5" cy="667.3" rx="2.5" ry="3.5" fill="#eaa27c" /><path d="M896.3,657.5 L896.3,670.8 Q898.1,682 908,682 Q917.9,682 919.7,670.8 L919.7,657.5 Z" fill="#f3b68f" /><path d="M893,665.2 Q893,647 908,647 Q923,647 923,665.2 L920,665.2 L919.7,659.6 Q918.5,656.1 908,657.1 Q897.5,656.1 896.3,659.6 L896,665.2 Z" fill="#3b2320" /><circle cx="902.7" cy="664.5" r="0.9" fill="#3a2a26" /><circle cx="913.3" cy="664.5" r="0.9" fill="#3a2a26" /><ellipse cx="908" cy="673.6" rx="3.5" ry="0.7" fill="#c9806a" />
<rect x="92" y="888" width="223" height="56.5" rx="9" fill="#d5eaf4"/>
<rect x="400" y="888" width="224" height="56.5" rx="9" fill="#fdeccc"/>
<rect x="711" y="888" width="222" height="56.5" rx="9" fill="#e3f0d2"/>
<text x="124" y="925" font-family='"Liberation Sans", sans-serif' font-weight="bold" font-size="25" fill="#44707f" textLength="160" lengthAdjust="spacingAndGlyphs">mRNA Vaccine</text>
<text x="431.5" y="925" font-family='"Liberation Sans", sans-serif' font-weight="bold" font-size="25" fill="#c2692e" textLength="161.5" lengthAdjust="spacingAndGlyphs">Viral Vector A</text>
<text x="744" y="925" font-family='"Liberation Sans", sans-serif' font-weight="bold" font-size="25" fill="#568a3c" textLength="156.7" lengthAdjust="spacingAndGlyphs">Viral Vector B</text>
</svg></body></html>
